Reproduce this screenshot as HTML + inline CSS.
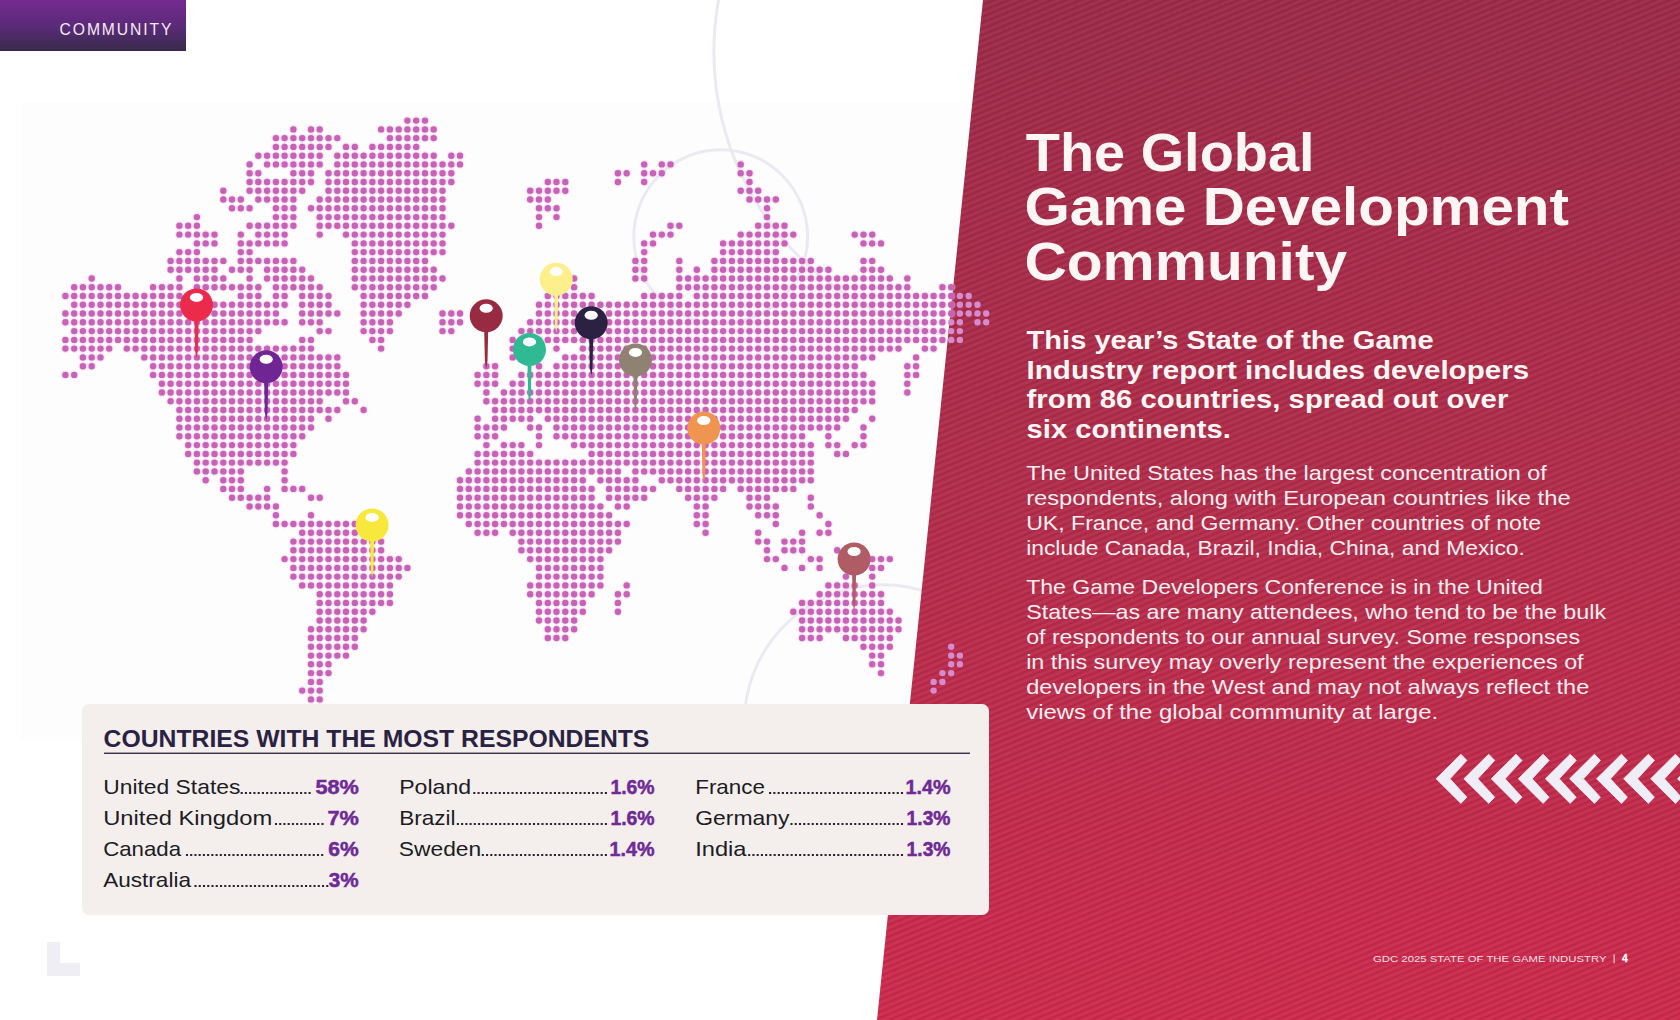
<!DOCTYPE html>
<html lang="en">
<head>
<meta charset="utf-8">
<title>The Global Game Development Community</title>
<style>
html,body{margin:0;padding:0;}
body{width:1680px;height:1020px;position:relative;overflow:hidden;background:#ffffff;}
svg{position:absolute;left:0;top:0;display:block;}
text{font-family:"Liberation Sans",Arial,sans-serif;white-space:pre;}
</style>
</head>
<body>
<svg width="1680" height="1020" viewBox="0 0 1680 1020">
  <defs>
    <linearGradient id="tabg" x1="0" y1="0" x2="0" y2="1">
      <stop offset="0" stop-color="#742a90"/>
      <stop offset="0.45" stop-color="#5e2a7c"/>
      <stop offset="1" stop-color="#382b4c"/>
    </linearGradient>
    <linearGradient id="pg" x1="0" y1="0" x2="0" y2="1020" gradientUnits="userSpaceOnUse">
      <stop offset="0" stop-color="#9d2d4a"/>
      <stop offset="0.5" stop-color="#b42f4d"/>
      <stop offset="1" stop-color="#cf2c4f"/>
    </linearGradient>
    <pattern id="stripes" patternUnits="userSpaceOnUse" width="20" height="5.5" patternTransform="rotate(-22.5)">
      <rect x="0" y="0" width="20" height="2.0" fill="#3a0010" fill-opacity="0.10"/>
      <rect x="0" y="3.0" width="20" height="1.6" fill="#fff" fill-opacity="0.035"/>
    </pattern>
  </defs>
  <rect x="21" y="102" width="1000" height="638" fill="#fdfdfd"/>
  <g fill="none" stroke="#ebe9f2" stroke-width="3">
    <circle cx="1002.9" cy="51.7" r="289"/>
    <circle cx="720.7" cy="236.7" r="86.9"/>
    <circle cx="882.8" cy="723.3" r="138.6"/>
  </g>
  <polygon points="983,0 1680,0 1680,1020 877,1020" fill="url(#pg)"/>
  <polygon points="983,0 1680,0 1680,1020 877,1020" fill="url(#stripes)"/>
  <path d="M407.4 120.6h0M416.2 120.6h0M425.0 120.6h0M293.4 129.4h0M311.0 129.4h0M319.7 129.4h0M381.1 129.4h0M389.9 129.4h0M398.7 129.4h0M407.4 129.4h0M416.2 129.4h0M425.0 129.4h0M433.7 129.4h0M275.9 138.1h0M284.6 138.1h0M293.4 138.1h0M302.2 138.1h0M311.0 138.1h0M319.7 138.1h0M328.5 138.1h0M337.3 138.1h0M389.9 138.1h0M398.7 138.1h0M407.4 138.1h0M416.2 138.1h0M425.0 138.1h0M433.7 138.1h0M275.9 146.9h0M284.6 146.9h0M293.4 146.9h0M302.2 146.9h0M311.0 146.9h0M319.7 146.9h0M328.5 146.9h0M346.0 146.9h0M354.8 146.9h0M372.4 146.9h0M381.1 146.9h0M389.9 146.9h0M398.7 146.9h0M407.4 146.9h0M416.2 146.9h0M258.3 155.7h0M267.1 155.7h0M275.9 155.7h0M284.6 155.7h0M293.4 155.7h0M302.2 155.7h0M311.0 155.7h0M319.7 155.7h0M337.3 155.7h0M346.0 155.7h0M354.8 155.7h0M363.6 155.7h0M372.4 155.7h0M381.1 155.7h0M389.9 155.7h0M398.7 155.7h0M407.4 155.7h0M416.2 155.7h0M425.0 155.7h0M433.7 155.7h0M451.3 155.7h0M460.0 155.7h0M249.6 164.4h0M267.1 164.4h0M275.9 164.4h0M284.6 164.4h0M293.4 164.4h0M302.2 164.4h0M311.0 164.4h0M319.7 164.4h0M337.3 164.4h0M346.0 164.4h0M354.8 164.4h0M363.6 164.4h0M372.4 164.4h0M381.1 164.4h0M389.9 164.4h0M398.7 164.4h0M407.4 164.4h0M416.2 164.4h0M425.0 164.4h0M433.7 164.4h0M442.5 164.4h0M451.3 164.4h0M460.0 164.4h0M644.2 164.4h0M661.8 164.4h0M670.5 164.4h0M740.7 164.4h0M249.6 173.2h0M258.3 173.2h0M293.4 173.2h0M302.2 173.2h0M311.0 173.2h0M328.5 173.2h0M337.3 173.2h0M346.0 173.2h0M354.8 173.2h0M363.6 173.2h0M372.4 173.2h0M381.1 173.2h0M389.9 173.2h0M398.7 173.2h0M407.4 173.2h0M416.2 173.2h0M425.0 173.2h0M433.7 173.2h0M442.5 173.2h0M451.3 173.2h0M617.9 173.2h0M626.7 173.2h0M644.2 173.2h0M653.0 173.2h0M661.8 173.2h0M740.7 173.2h0M749.5 173.2h0M249.6 182.0h0M258.3 182.0h0M267.1 182.0h0M275.9 182.0h0M284.6 182.0h0M293.4 182.0h0M302.2 182.0h0M311.0 182.0h0M328.5 182.0h0M337.3 182.0h0M346.0 182.0h0M354.8 182.0h0M363.6 182.0h0M372.4 182.0h0M381.1 182.0h0M389.9 182.0h0M398.7 182.0h0M407.4 182.0h0M416.2 182.0h0M425.0 182.0h0M433.7 182.0h0M442.5 182.0h0M451.3 182.0h0M547.8 182.0h0M556.5 182.0h0M565.3 182.0h0M617.9 182.0h0M644.2 182.0h0M749.5 182.0h0M223.3 190.8h0M249.6 190.8h0M258.3 190.8h0M267.1 190.8h0M275.9 190.8h0M284.6 190.8h0M293.4 190.8h0M302.2 190.8h0M328.5 190.8h0M337.3 190.8h0M346.0 190.8h0M354.8 190.8h0M363.6 190.8h0M372.4 190.8h0M381.1 190.8h0M389.9 190.8h0M398.7 190.8h0M407.4 190.8h0M416.2 190.8h0M425.0 190.8h0M433.7 190.8h0M442.5 190.8h0M530.2 190.8h0M539.0 190.8h0M547.8 190.8h0M556.5 190.8h0M565.3 190.8h0M740.7 190.8h0M749.5 190.8h0M758.2 190.8h0M223.3 199.5h0M232.0 199.5h0M240.8 199.5h0M258.3 199.5h0M267.1 199.5h0M275.9 199.5h0M284.6 199.5h0M293.4 199.5h0M319.7 199.5h0M328.5 199.5h0M337.3 199.5h0M346.0 199.5h0M354.8 199.5h0M363.6 199.5h0M372.4 199.5h0M381.1 199.5h0M389.9 199.5h0M398.7 199.5h0M407.4 199.5h0M416.2 199.5h0M425.0 199.5h0M433.7 199.5h0M442.5 199.5h0M530.2 199.5h0M539.0 199.5h0M547.8 199.5h0M749.5 199.5h0M758.2 199.5h0M767.0 199.5h0M775.8 199.5h0M232.0 208.3h0M240.8 208.3h0M249.6 208.3h0M275.9 208.3h0M284.6 208.3h0M293.4 208.3h0M311.0 208.3h0M319.7 208.3h0M328.5 208.3h0M337.3 208.3h0M346.0 208.3h0M354.8 208.3h0M363.6 208.3h0M372.4 208.3h0M381.1 208.3h0M389.9 208.3h0M398.7 208.3h0M407.4 208.3h0M416.2 208.3h0M425.0 208.3h0M433.7 208.3h0M442.5 208.3h0M539.0 208.3h0M547.8 208.3h0M556.5 208.3h0M767.0 208.3h0M196.9 217.1h0M275.9 217.1h0M284.6 217.1h0M293.4 217.1h0M319.7 217.1h0M328.5 217.1h0M337.3 217.1h0M346.0 217.1h0M354.8 217.1h0M363.6 217.1h0M372.4 217.1h0M381.1 217.1h0M389.9 217.1h0M398.7 217.1h0M407.4 217.1h0M416.2 217.1h0M425.0 217.1h0M433.7 217.1h0M442.5 217.1h0M539.0 217.1h0M556.5 217.1h0M767.0 217.1h0M179.4 225.8h0M188.2 225.8h0M196.9 225.8h0M249.6 225.8h0M258.3 225.8h0M267.1 225.8h0M275.9 225.8h0M284.6 225.8h0M293.4 225.8h0M319.7 225.8h0M328.5 225.8h0M337.3 225.8h0M346.0 225.8h0M354.8 225.8h0M363.6 225.8h0M372.4 225.8h0M381.1 225.8h0M389.9 225.8h0M398.7 225.8h0M407.4 225.8h0M416.2 225.8h0M425.0 225.8h0M433.7 225.8h0M442.5 225.8h0M451.3 225.8h0M539.0 225.8h0M670.5 225.8h0M679.3 225.8h0M758.2 225.8h0M767.0 225.8h0M775.8 225.8h0M784.5 225.8h0M179.4 234.6h0M188.2 234.6h0M196.9 234.6h0M205.7 234.6h0M214.5 234.6h0M240.8 234.6h0M258.3 234.6h0M267.1 234.6h0M275.9 234.6h0M284.6 234.6h0M319.7 234.6h0M346.0 234.6h0M354.8 234.6h0M363.6 234.6h0M372.4 234.6h0M381.1 234.6h0M389.9 234.6h0M398.7 234.6h0M407.4 234.6h0M416.2 234.6h0M425.0 234.6h0M433.7 234.6h0M442.5 234.6h0M653.0 234.6h0M661.8 234.6h0M670.5 234.6h0M740.7 234.6h0M749.5 234.6h0M758.2 234.6h0M767.0 234.6h0M775.8 234.6h0M784.5 234.6h0M793.3 234.6h0M854.7 234.6h0M863.5 234.6h0M872.2 234.6h0M196.9 243.4h0M205.7 243.4h0M214.5 243.4h0M240.8 243.4h0M249.6 243.4h0M258.3 243.4h0M267.1 243.4h0M275.9 243.4h0M284.6 243.4h0M354.8 243.4h0M363.6 243.4h0M372.4 243.4h0M381.1 243.4h0M389.9 243.4h0M398.7 243.4h0M407.4 243.4h0M416.2 243.4h0M425.0 243.4h0M433.7 243.4h0M442.5 243.4h0M644.2 243.4h0M653.0 243.4h0M723.1 243.4h0M731.9 243.4h0M740.7 243.4h0M749.5 243.4h0M758.2 243.4h0M767.0 243.4h0M775.8 243.4h0M784.5 243.4h0M863.5 243.4h0M872.2 243.4h0M881.0 243.4h0M179.4 252.1h0M188.2 252.1h0M196.9 252.1h0M240.8 252.1h0M249.6 252.1h0M354.8 252.1h0M363.6 252.1h0M372.4 252.1h0M381.1 252.1h0M389.9 252.1h0M398.7 252.1h0M407.4 252.1h0M416.2 252.1h0M425.0 252.1h0M433.7 252.1h0M442.5 252.1h0M644.2 252.1h0M723.1 252.1h0M731.9 252.1h0M740.7 252.1h0M749.5 252.1h0M758.2 252.1h0M767.0 252.1h0M775.8 252.1h0M170.6 260.9h0M179.4 260.9h0M188.2 260.9h0M196.9 260.9h0M205.7 260.9h0M214.5 260.9h0M223.3 260.9h0M240.8 260.9h0M249.6 260.9h0M258.3 260.9h0M267.1 260.9h0M275.9 260.9h0M284.6 260.9h0M293.4 260.9h0M354.8 260.9h0M363.6 260.9h0M372.4 260.9h0M381.1 260.9h0M389.9 260.9h0M398.7 260.9h0M407.4 260.9h0M416.2 260.9h0M425.0 260.9h0M635.4 260.9h0M644.2 260.9h0M679.3 260.9h0M714.4 260.9h0M723.1 260.9h0M731.9 260.9h0M740.7 260.9h0M749.5 260.9h0M758.2 260.9h0M767.0 260.9h0M775.8 260.9h0M784.5 260.9h0M793.3 260.9h0M802.1 260.9h0M810.8 260.9h0M863.5 260.9h0M872.2 260.9h0M170.6 269.7h0M179.4 269.7h0M188.2 269.7h0M196.9 269.7h0M205.7 269.7h0M214.5 269.7h0M232.0 269.7h0M240.8 269.7h0M249.6 269.7h0M267.1 269.7h0M275.9 269.7h0M284.6 269.7h0M293.4 269.7h0M302.2 269.7h0M354.8 269.7h0M363.6 269.7h0M372.4 269.7h0M381.1 269.7h0M389.9 269.7h0M398.7 269.7h0M407.4 269.7h0M416.2 269.7h0M425.0 269.7h0M433.7 269.7h0M635.4 269.7h0M644.2 269.7h0M679.3 269.7h0M696.8 269.7h0M714.4 269.7h0M723.1 269.7h0M731.9 269.7h0M740.7 269.7h0M749.5 269.7h0M758.2 269.7h0M767.0 269.7h0M775.8 269.7h0M784.5 269.7h0M793.3 269.7h0M802.1 269.7h0M810.8 269.7h0M819.6 269.7h0M828.4 269.7h0M863.5 269.7h0M872.2 269.7h0M881.0 269.7h0M91.7 278.5h0M179.4 278.5h0M196.9 278.5h0M205.7 278.5h0M214.5 278.5h0M223.3 278.5h0M249.6 278.5h0M267.1 278.5h0M275.9 278.5h0M284.6 278.5h0M293.4 278.5h0M302.2 278.5h0M311.0 278.5h0M354.8 278.5h0M363.6 278.5h0M372.4 278.5h0M381.1 278.5h0M389.9 278.5h0M398.7 278.5h0M407.4 278.5h0M416.2 278.5h0M425.0 278.5h0M433.7 278.5h0M442.5 278.5h0M574.1 278.5h0M635.4 278.5h0M644.2 278.5h0M679.3 278.5h0M688.1 278.5h0M696.8 278.5h0M705.6 278.5h0M714.4 278.5h0M723.1 278.5h0M731.9 278.5h0M740.7 278.5h0M749.5 278.5h0M758.2 278.5h0M767.0 278.5h0M775.8 278.5h0M784.5 278.5h0M793.3 278.5h0M802.1 278.5h0M810.8 278.5h0M819.6 278.5h0M828.4 278.5h0M837.2 278.5h0M845.9 278.5h0M854.7 278.5h0M863.5 278.5h0M872.2 278.5h0M881.0 278.5h0M889.8 278.5h0M907.3 278.5h0M74.2 287.2h0M82.9 287.2h0M91.7 287.2h0M100.5 287.2h0M109.2 287.2h0M118.0 287.2h0M153.1 287.2h0M161.9 287.2h0M170.6 287.2h0M179.4 287.2h0M196.9 287.2h0M205.7 287.2h0M214.5 287.2h0M223.3 287.2h0M232.0 287.2h0M240.8 287.2h0M249.6 287.2h0M258.3 287.2h0M275.9 287.2h0M284.6 287.2h0M293.4 287.2h0M302.2 287.2h0M311.0 287.2h0M319.7 287.2h0M354.8 287.2h0M363.6 287.2h0M372.4 287.2h0M381.1 287.2h0M389.9 287.2h0M398.7 287.2h0M407.4 287.2h0M416.2 287.2h0M425.0 287.2h0M433.7 287.2h0M574.1 287.2h0M679.3 287.2h0M688.1 287.2h0M696.8 287.2h0M705.6 287.2h0M714.4 287.2h0M723.1 287.2h0M731.9 287.2h0M740.7 287.2h0M749.5 287.2h0M758.2 287.2h0M767.0 287.2h0M775.8 287.2h0M784.5 287.2h0M793.3 287.2h0M802.1 287.2h0M810.8 287.2h0M819.6 287.2h0M828.4 287.2h0M837.2 287.2h0M845.9 287.2h0M854.7 287.2h0M863.5 287.2h0M872.2 287.2h0M881.0 287.2h0M889.8 287.2h0M898.5 287.2h0M907.3 287.2h0M942.4 287.2h0M951.2 287.2h0M65.4 296.0h0M74.2 296.0h0M82.9 296.0h0M91.7 296.0h0M100.5 296.0h0M109.2 296.0h0M118.0 296.0h0M126.8 296.0h0M135.6 296.0h0M144.3 296.0h0M153.1 296.0h0M161.9 296.0h0M170.6 296.0h0M179.4 296.0h0M188.2 296.0h0M196.9 296.0h0M205.7 296.0h0M240.8 296.0h0M249.6 296.0h0M258.3 296.0h0M275.9 296.0h0M284.6 296.0h0M302.2 296.0h0M311.0 296.0h0M319.7 296.0h0M328.5 296.0h0M363.6 296.0h0M372.4 296.0h0M381.1 296.0h0M389.9 296.0h0M398.7 296.0h0M407.4 296.0h0M416.2 296.0h0M425.0 296.0h0M547.8 296.0h0M556.5 296.0h0M565.3 296.0h0M574.1 296.0h0M582.8 296.0h0M591.6 296.0h0M644.2 296.0h0M653.0 296.0h0M661.8 296.0h0M670.5 296.0h0M679.3 296.0h0M696.8 296.0h0M705.6 296.0h0M714.4 296.0h0M723.1 296.0h0M731.9 296.0h0M740.7 296.0h0M749.5 296.0h0M758.2 296.0h0M767.0 296.0h0M775.8 296.0h0M784.5 296.0h0M793.3 296.0h0M802.1 296.0h0M810.8 296.0h0M819.6 296.0h0M828.4 296.0h0M837.2 296.0h0M845.9 296.0h0M854.7 296.0h0M863.5 296.0h0M872.2 296.0h0M881.0 296.0h0M889.8 296.0h0M898.5 296.0h0M907.3 296.0h0M916.1 296.0h0M924.9 296.0h0M933.6 296.0h0M942.4 296.0h0M951.2 296.0h0M74.2 304.8h0M82.9 304.8h0M91.7 304.8h0M100.5 304.8h0M109.2 304.8h0M118.0 304.8h0M126.8 304.8h0M135.6 304.8h0M144.3 304.8h0M153.1 304.8h0M161.9 304.8h0M170.6 304.8h0M179.4 304.8h0M188.2 304.8h0M196.9 304.8h0M205.7 304.8h0M214.5 304.8h0M223.3 304.8h0M232.0 304.8h0M240.8 304.8h0M249.6 304.8h0M258.3 304.8h0M267.1 304.8h0M275.9 304.8h0M284.6 304.8h0M302.2 304.8h0M311.0 304.8h0M319.7 304.8h0M328.5 304.8h0M363.6 304.8h0M372.4 304.8h0M381.1 304.8h0M389.9 304.8h0M398.7 304.8h0M407.4 304.8h0M539.0 304.8h0M547.8 304.8h0M556.5 304.8h0M565.3 304.8h0M574.1 304.8h0M582.8 304.8h0M591.6 304.8h0M600.4 304.8h0M609.1 304.8h0M617.9 304.8h0M626.7 304.8h0M635.4 304.8h0M644.2 304.8h0M653.0 304.8h0M661.8 304.8h0M670.5 304.8h0M679.3 304.8h0M688.1 304.8h0M696.8 304.8h0M705.6 304.8h0M714.4 304.8h0M723.1 304.8h0M731.9 304.8h0M740.7 304.8h0M749.5 304.8h0M758.2 304.8h0M767.0 304.8h0M775.8 304.8h0M784.5 304.8h0M793.3 304.8h0M802.1 304.8h0M810.8 304.8h0M819.6 304.8h0M828.4 304.8h0M837.2 304.8h0M845.9 304.8h0M854.7 304.8h0M863.5 304.8h0M872.2 304.8h0M881.0 304.8h0M889.8 304.8h0M898.5 304.8h0M907.3 304.8h0M916.1 304.8h0M924.9 304.8h0M933.6 304.8h0M942.4 304.8h0M951.2 304.8h0M65.4 313.5h0M74.2 313.5h0M82.9 313.5h0M91.7 313.5h0M100.5 313.5h0M109.2 313.5h0M118.0 313.5h0M126.8 313.5h0M135.6 313.5h0M144.3 313.5h0M153.1 313.5h0M161.9 313.5h0M170.6 313.5h0M179.4 313.5h0M188.2 313.5h0M196.9 313.5h0M205.7 313.5h0M214.5 313.5h0M223.3 313.5h0M232.0 313.5h0M240.8 313.5h0M249.6 313.5h0M258.3 313.5h0M267.1 313.5h0M275.9 313.5h0M302.2 313.5h0M311.0 313.5h0M319.7 313.5h0M328.5 313.5h0M337.3 313.5h0M363.6 313.5h0M372.4 313.5h0M381.1 313.5h0M389.9 313.5h0M398.7 313.5h0M442.5 313.5h0M451.3 313.5h0M460.0 313.5h0M539.0 313.5h0M547.8 313.5h0M556.5 313.5h0M565.3 313.5h0M574.1 313.5h0M582.8 313.5h0M591.6 313.5h0M600.4 313.5h0M609.1 313.5h0M617.9 313.5h0M626.7 313.5h0M635.4 313.5h0M644.2 313.5h0M653.0 313.5h0M661.8 313.5h0M670.5 313.5h0M679.3 313.5h0M688.1 313.5h0M696.8 313.5h0M705.6 313.5h0M714.4 313.5h0M723.1 313.5h0M731.9 313.5h0M740.7 313.5h0M749.5 313.5h0M758.2 313.5h0M767.0 313.5h0M775.8 313.5h0M784.5 313.5h0M793.3 313.5h0M802.1 313.5h0M810.8 313.5h0M819.6 313.5h0M828.4 313.5h0M837.2 313.5h0M845.9 313.5h0M854.7 313.5h0M863.5 313.5h0M872.2 313.5h0M881.0 313.5h0M889.8 313.5h0M898.5 313.5h0M907.3 313.5h0M916.1 313.5h0M924.9 313.5h0M933.6 313.5h0M942.4 313.5h0M951.2 313.5h0M65.4 322.3h0M74.2 322.3h0M82.9 322.3h0M91.7 322.3h0M100.5 322.3h0M109.2 322.3h0M118.0 322.3h0M126.8 322.3h0M135.6 322.3h0M144.3 322.3h0M153.1 322.3h0M161.9 322.3h0M170.6 322.3h0M179.4 322.3h0M188.2 322.3h0M196.9 322.3h0M205.7 322.3h0M214.5 322.3h0M223.3 322.3h0M232.0 322.3h0M240.8 322.3h0M249.6 322.3h0M258.3 322.3h0M267.1 322.3h0M275.9 322.3h0M284.6 322.3h0M302.2 322.3h0M311.0 322.3h0M319.7 322.3h0M363.6 322.3h0M372.4 322.3h0M381.1 322.3h0M389.9 322.3h0M442.5 322.3h0M451.3 322.3h0M460.0 322.3h0M530.2 322.3h0M539.0 322.3h0M547.8 322.3h0M556.5 322.3h0M565.3 322.3h0M574.1 322.3h0M582.8 322.3h0M591.6 322.3h0M600.4 322.3h0M609.1 322.3h0M617.9 322.3h0M626.7 322.3h0M635.4 322.3h0M644.2 322.3h0M653.0 322.3h0M661.8 322.3h0M670.5 322.3h0M679.3 322.3h0M688.1 322.3h0M696.8 322.3h0M705.6 322.3h0M714.4 322.3h0M723.1 322.3h0M731.9 322.3h0M740.7 322.3h0M749.5 322.3h0M758.2 322.3h0M767.0 322.3h0M775.8 322.3h0M784.5 322.3h0M793.3 322.3h0M802.1 322.3h0M810.8 322.3h0M819.6 322.3h0M828.4 322.3h0M837.2 322.3h0M845.9 322.3h0M854.7 322.3h0M863.5 322.3h0M872.2 322.3h0M881.0 322.3h0M889.8 322.3h0M898.5 322.3h0M907.3 322.3h0M916.1 322.3h0M924.9 322.3h0M933.6 322.3h0M942.4 322.3h0M74.2 331.1h0M82.9 331.1h0M91.7 331.1h0M100.5 331.1h0M109.2 331.1h0M118.0 331.1h0M126.8 331.1h0M135.6 331.1h0M144.3 331.1h0M153.1 331.1h0M161.9 331.1h0M170.6 331.1h0M179.4 331.1h0M188.2 331.1h0M196.9 331.1h0M205.7 331.1h0M214.5 331.1h0M223.3 331.1h0M232.0 331.1h0M240.8 331.1h0M249.6 331.1h0M258.3 331.1h0M319.7 331.1h0M328.5 331.1h0M363.6 331.1h0M372.4 331.1h0M381.1 331.1h0M389.9 331.1h0M442.5 331.1h0M451.3 331.1h0M521.4 331.1h0M530.2 331.1h0M539.0 331.1h0M547.8 331.1h0M556.5 331.1h0M565.3 331.1h0M574.1 331.1h0M582.8 331.1h0M591.6 331.1h0M600.4 331.1h0M609.1 331.1h0M617.9 331.1h0M626.7 331.1h0M635.4 331.1h0M644.2 331.1h0M653.0 331.1h0M661.8 331.1h0M670.5 331.1h0M679.3 331.1h0M688.1 331.1h0M696.8 331.1h0M705.6 331.1h0M714.4 331.1h0M723.1 331.1h0M731.9 331.1h0M740.7 331.1h0M749.5 331.1h0M758.2 331.1h0M767.0 331.1h0M775.8 331.1h0M784.5 331.1h0M793.3 331.1h0M802.1 331.1h0M810.8 331.1h0M819.6 331.1h0M828.4 331.1h0M837.2 331.1h0M845.9 331.1h0M854.7 331.1h0M863.5 331.1h0M872.2 331.1h0M881.0 331.1h0M889.8 331.1h0M898.5 331.1h0M907.3 331.1h0M916.1 331.1h0M924.9 331.1h0M933.6 331.1h0M942.4 331.1h0M65.4 339.9h0M74.2 339.9h0M82.9 339.9h0M91.7 339.9h0M100.5 339.9h0M109.2 339.9h0M118.0 339.9h0M126.8 339.9h0M135.6 339.9h0M144.3 339.9h0M153.1 339.9h0M161.9 339.9h0M170.6 339.9h0M179.4 339.9h0M188.2 339.9h0M196.9 339.9h0M205.7 339.9h0M214.5 339.9h0M223.3 339.9h0M232.0 339.9h0M240.8 339.9h0M249.6 339.9h0M302.2 339.9h0M311.0 339.9h0M372.4 339.9h0M381.1 339.9h0M512.7 339.9h0M521.4 339.9h0M530.2 339.9h0M539.0 339.9h0M547.8 339.9h0M556.5 339.9h0M565.3 339.9h0M574.1 339.9h0M582.8 339.9h0M591.6 339.9h0M600.4 339.9h0M609.1 339.9h0M617.9 339.9h0M626.7 339.9h0M635.4 339.9h0M644.2 339.9h0M653.0 339.9h0M661.8 339.9h0M670.5 339.9h0M679.3 339.9h0M688.1 339.9h0M696.8 339.9h0M705.6 339.9h0M714.4 339.9h0M723.1 339.9h0M731.9 339.9h0M740.7 339.9h0M749.5 339.9h0M758.2 339.9h0M767.0 339.9h0M775.8 339.9h0M784.5 339.9h0M793.3 339.9h0M802.1 339.9h0M810.8 339.9h0M819.6 339.9h0M828.4 339.9h0M837.2 339.9h0M845.9 339.9h0M854.7 339.9h0M863.5 339.9h0M872.2 339.9h0M881.0 339.9h0M889.8 339.9h0M898.5 339.9h0M907.3 339.9h0M916.1 339.9h0M924.9 339.9h0M933.6 339.9h0M942.4 339.9h0M65.4 348.6h0M74.2 348.6h0M82.9 348.6h0M91.7 348.6h0M100.5 348.6h0M109.2 348.6h0M126.8 348.6h0M135.6 348.6h0M144.3 348.6h0M153.1 348.6h0M161.9 348.6h0M170.6 348.6h0M179.4 348.6h0M188.2 348.6h0M196.9 348.6h0M205.7 348.6h0M214.5 348.6h0M223.3 348.6h0M232.0 348.6h0M240.8 348.6h0M249.6 348.6h0M258.3 348.6h0M267.1 348.6h0M275.9 348.6h0M284.6 348.6h0M293.4 348.6h0M302.2 348.6h0M311.0 348.6h0M381.1 348.6h0M512.7 348.6h0M521.4 348.6h0M530.2 348.6h0M539.0 348.6h0M556.5 348.6h0M582.8 348.6h0M591.6 348.6h0M600.4 348.6h0M609.1 348.6h0M617.9 348.6h0M626.7 348.6h0M635.4 348.6h0M644.2 348.6h0M653.0 348.6h0M661.8 348.6h0M670.5 348.6h0M679.3 348.6h0M688.1 348.6h0M696.8 348.6h0M705.6 348.6h0M714.4 348.6h0M723.1 348.6h0M731.9 348.6h0M740.7 348.6h0M749.5 348.6h0M758.2 348.6h0M767.0 348.6h0M775.8 348.6h0M784.5 348.6h0M793.3 348.6h0M802.1 348.6h0M810.8 348.6h0M819.6 348.6h0M828.4 348.6h0M837.2 348.6h0M845.9 348.6h0M854.7 348.6h0M863.5 348.6h0M872.2 348.6h0M881.0 348.6h0M889.8 348.6h0M898.5 348.6h0M924.9 348.6h0M933.6 348.6h0M82.9 357.4h0M91.7 357.4h0M100.5 357.4h0M144.3 357.4h0M153.1 357.4h0M161.9 357.4h0M170.6 357.4h0M179.4 357.4h0M188.2 357.4h0M196.9 357.4h0M205.7 357.4h0M214.5 357.4h0M223.3 357.4h0M232.0 357.4h0M240.8 357.4h0M249.6 357.4h0M258.3 357.4h0M267.1 357.4h0M275.9 357.4h0M284.6 357.4h0M293.4 357.4h0M302.2 357.4h0M311.0 357.4h0M319.7 357.4h0M328.5 357.4h0M337.3 357.4h0M512.7 357.4h0M521.4 357.4h0M530.2 357.4h0M539.0 357.4h0M565.3 357.4h0M574.1 357.4h0M582.8 357.4h0M591.6 357.4h0M600.4 357.4h0M609.1 357.4h0M617.9 357.4h0M626.7 357.4h0M635.4 357.4h0M644.2 357.4h0M653.0 357.4h0M661.8 357.4h0M670.5 357.4h0M679.3 357.4h0M688.1 357.4h0M696.8 357.4h0M705.6 357.4h0M714.4 357.4h0M723.1 357.4h0M731.9 357.4h0M740.7 357.4h0M749.5 357.4h0M758.2 357.4h0M767.0 357.4h0M775.8 357.4h0M784.5 357.4h0M793.3 357.4h0M802.1 357.4h0M810.8 357.4h0M819.6 357.4h0M828.4 357.4h0M837.2 357.4h0M845.9 357.4h0M854.7 357.4h0M863.5 357.4h0M872.2 357.4h0M916.1 357.4h0M82.9 366.2h0M91.7 366.2h0M153.1 366.2h0M161.9 366.2h0M170.6 366.2h0M179.4 366.2h0M188.2 366.2h0M196.9 366.2h0M205.7 366.2h0M214.5 366.2h0M223.3 366.2h0M232.0 366.2h0M240.8 366.2h0M249.6 366.2h0M258.3 366.2h0M267.1 366.2h0M275.9 366.2h0M284.6 366.2h0M293.4 366.2h0M302.2 366.2h0M311.0 366.2h0M319.7 366.2h0M328.5 366.2h0M337.3 366.2h0M486.4 366.2h0M495.1 366.2h0M539.0 366.2h0M556.5 366.2h0M565.3 366.2h0M574.1 366.2h0M582.8 366.2h0M591.6 366.2h0M600.4 366.2h0M609.1 366.2h0M617.9 366.2h0M626.7 366.2h0M635.4 366.2h0M644.2 366.2h0M653.0 366.2h0M661.8 366.2h0M670.5 366.2h0M679.3 366.2h0M688.1 366.2h0M696.8 366.2h0M705.6 366.2h0M714.4 366.2h0M723.1 366.2h0M731.9 366.2h0M740.7 366.2h0M749.5 366.2h0M758.2 366.2h0M767.0 366.2h0M775.8 366.2h0M784.5 366.2h0M793.3 366.2h0M802.1 366.2h0M810.8 366.2h0M819.6 366.2h0M828.4 366.2h0M837.2 366.2h0M845.9 366.2h0M854.7 366.2h0M907.3 366.2h0M916.1 366.2h0M65.4 374.9h0M74.2 374.9h0M153.1 374.9h0M161.9 374.9h0M170.6 374.9h0M179.4 374.9h0M188.2 374.9h0M196.9 374.9h0M205.7 374.9h0M214.5 374.9h0M223.3 374.9h0M232.0 374.9h0M240.8 374.9h0M249.6 374.9h0M258.3 374.9h0M267.1 374.9h0M275.9 374.9h0M284.6 374.9h0M293.4 374.9h0M302.2 374.9h0M311.0 374.9h0M319.7 374.9h0M328.5 374.9h0M337.3 374.9h0M346.0 374.9h0M477.6 374.9h0M486.4 374.9h0M495.1 374.9h0M521.4 374.9h0M530.2 374.9h0M539.0 374.9h0M547.8 374.9h0M556.5 374.9h0M565.3 374.9h0M574.1 374.9h0M582.8 374.9h0M591.6 374.9h0M600.4 374.9h0M609.1 374.9h0M617.9 374.9h0M626.7 374.9h0M635.4 374.9h0M644.2 374.9h0M653.0 374.9h0M661.8 374.9h0M670.5 374.9h0M679.3 374.9h0M688.1 374.9h0M696.8 374.9h0M705.6 374.9h0M714.4 374.9h0M723.1 374.9h0M731.9 374.9h0M740.7 374.9h0M749.5 374.9h0M758.2 374.9h0M767.0 374.9h0M775.8 374.9h0M784.5 374.9h0M793.3 374.9h0M802.1 374.9h0M810.8 374.9h0M819.6 374.9h0M828.4 374.9h0M837.2 374.9h0M845.9 374.9h0M854.7 374.9h0M863.5 374.9h0M907.3 374.9h0M916.1 374.9h0M161.9 383.7h0M170.6 383.7h0M179.4 383.7h0M188.2 383.7h0M196.9 383.7h0M205.7 383.7h0M214.5 383.7h0M223.3 383.7h0M232.0 383.7h0M240.8 383.7h0M249.6 383.7h0M258.3 383.7h0M267.1 383.7h0M275.9 383.7h0M284.6 383.7h0M293.4 383.7h0M302.2 383.7h0M311.0 383.7h0M319.7 383.7h0M328.5 383.7h0M337.3 383.7h0M346.0 383.7h0M477.6 383.7h0M486.4 383.7h0M495.1 383.7h0M512.7 383.7h0M521.4 383.7h0M539.0 383.7h0M547.8 383.7h0M556.5 383.7h0M565.3 383.7h0M574.1 383.7h0M582.8 383.7h0M591.6 383.7h0M600.4 383.7h0M609.1 383.7h0M617.9 383.7h0M626.7 383.7h0M635.4 383.7h0M644.2 383.7h0M653.0 383.7h0M661.8 383.7h0M670.5 383.7h0M679.3 383.7h0M688.1 383.7h0M696.8 383.7h0M705.6 383.7h0M714.4 383.7h0M723.1 383.7h0M731.9 383.7h0M740.7 383.7h0M749.5 383.7h0M758.2 383.7h0M767.0 383.7h0M775.8 383.7h0M784.5 383.7h0M793.3 383.7h0M802.1 383.7h0M810.8 383.7h0M819.6 383.7h0M828.4 383.7h0M837.2 383.7h0M845.9 383.7h0M854.7 383.7h0M863.5 383.7h0M872.2 383.7h0M907.3 383.7h0M161.9 392.5h0M170.6 392.5h0M179.4 392.5h0M188.2 392.5h0M196.9 392.5h0M205.7 392.5h0M214.5 392.5h0M223.3 392.5h0M232.0 392.5h0M240.8 392.5h0M249.6 392.5h0M258.3 392.5h0M267.1 392.5h0M275.9 392.5h0M284.6 392.5h0M293.4 392.5h0M302.2 392.5h0M311.0 392.5h0M319.7 392.5h0M328.5 392.5h0M337.3 392.5h0M346.0 392.5h0M486.4 392.5h0M503.9 392.5h0M512.7 392.5h0M521.4 392.5h0M530.2 392.5h0M539.0 392.5h0M547.8 392.5h0M556.5 392.5h0M565.3 392.5h0M574.1 392.5h0M582.8 392.5h0M591.6 392.5h0M600.4 392.5h0M609.1 392.5h0M617.9 392.5h0M626.7 392.5h0M635.4 392.5h0M644.2 392.5h0M653.0 392.5h0M661.8 392.5h0M670.5 392.5h0M679.3 392.5h0M688.1 392.5h0M696.8 392.5h0M705.6 392.5h0M714.4 392.5h0M723.1 392.5h0M731.9 392.5h0M740.7 392.5h0M749.5 392.5h0M758.2 392.5h0M767.0 392.5h0M775.8 392.5h0M784.5 392.5h0M793.3 392.5h0M802.1 392.5h0M810.8 392.5h0M819.6 392.5h0M828.4 392.5h0M837.2 392.5h0M845.9 392.5h0M854.7 392.5h0M863.5 392.5h0M872.2 392.5h0M907.3 392.5h0M170.6 401.2h0M179.4 401.2h0M188.2 401.2h0M196.9 401.2h0M205.7 401.2h0M214.5 401.2h0M223.3 401.2h0M232.0 401.2h0M240.8 401.2h0M249.6 401.2h0M258.3 401.2h0M267.1 401.2h0M275.9 401.2h0M284.6 401.2h0M293.4 401.2h0M302.2 401.2h0M311.0 401.2h0M319.7 401.2h0M346.0 401.2h0M354.8 401.2h0M486.4 401.2h0M495.1 401.2h0M503.9 401.2h0M512.7 401.2h0M521.4 401.2h0M530.2 401.2h0M539.0 401.2h0M547.8 401.2h0M556.5 401.2h0M565.3 401.2h0M574.1 401.2h0M582.8 401.2h0M591.6 401.2h0M600.4 401.2h0M609.1 401.2h0M617.9 401.2h0M626.7 401.2h0M635.4 401.2h0M644.2 401.2h0M653.0 401.2h0M661.8 401.2h0M670.5 401.2h0M679.3 401.2h0M688.1 401.2h0M696.8 401.2h0M705.6 401.2h0M714.4 401.2h0M723.1 401.2h0M731.9 401.2h0M740.7 401.2h0M749.5 401.2h0M758.2 401.2h0M767.0 401.2h0M775.8 401.2h0M784.5 401.2h0M793.3 401.2h0M802.1 401.2h0M810.8 401.2h0M819.6 401.2h0M828.4 401.2h0M837.2 401.2h0M845.9 401.2h0M854.7 401.2h0M863.5 401.2h0M872.2 401.2h0M179.4 410.0h0M188.2 410.0h0M196.9 410.0h0M205.7 410.0h0M214.5 410.0h0M223.3 410.0h0M232.0 410.0h0M240.8 410.0h0M249.6 410.0h0M258.3 410.0h0M267.1 410.0h0M275.9 410.0h0M284.6 410.0h0M293.4 410.0h0M302.2 410.0h0M311.0 410.0h0M319.7 410.0h0M328.5 410.0h0M337.3 410.0h0M363.6 410.0h0M495.1 410.0h0M503.9 410.0h0M512.7 410.0h0M521.4 410.0h0M530.2 410.0h0M539.0 410.0h0M547.8 410.0h0M556.5 410.0h0M565.3 410.0h0M574.1 410.0h0M582.8 410.0h0M591.6 410.0h0M600.4 410.0h0M609.1 410.0h0M617.9 410.0h0M626.7 410.0h0M635.4 410.0h0M644.2 410.0h0M653.0 410.0h0M661.8 410.0h0M670.5 410.0h0M679.3 410.0h0M688.1 410.0h0M696.8 410.0h0M705.6 410.0h0M714.4 410.0h0M723.1 410.0h0M731.9 410.0h0M740.7 410.0h0M749.5 410.0h0M758.2 410.0h0M767.0 410.0h0M775.8 410.0h0M784.5 410.0h0M793.3 410.0h0M802.1 410.0h0M810.8 410.0h0M819.6 410.0h0M828.4 410.0h0M837.2 410.0h0M845.9 410.0h0M854.7 410.0h0M179.4 418.8h0M188.2 418.8h0M196.9 418.8h0M205.7 418.8h0M214.5 418.8h0M223.3 418.8h0M232.0 418.8h0M240.8 418.8h0M249.6 418.8h0M258.3 418.8h0M267.1 418.8h0M275.9 418.8h0M284.6 418.8h0M293.4 418.8h0M302.2 418.8h0M311.0 418.8h0M328.5 418.8h0M477.6 418.8h0M495.1 418.8h0M503.9 418.8h0M512.7 418.8h0M521.4 418.8h0M530.2 418.8h0M547.8 418.8h0M556.5 418.8h0M565.3 418.8h0M574.1 418.8h0M582.8 418.8h0M591.6 418.8h0M600.4 418.8h0M609.1 418.8h0M617.9 418.8h0M626.7 418.8h0M635.4 418.8h0M644.2 418.8h0M653.0 418.8h0M661.8 418.8h0M670.5 418.8h0M679.3 418.8h0M688.1 418.8h0M696.8 418.8h0M705.6 418.8h0M714.4 418.8h0M723.1 418.8h0M731.9 418.8h0M740.7 418.8h0M749.5 418.8h0M758.2 418.8h0M767.0 418.8h0M775.8 418.8h0M784.5 418.8h0M793.3 418.8h0M802.1 418.8h0M810.8 418.8h0M819.6 418.8h0M828.4 418.8h0M837.2 418.8h0M845.9 418.8h0M872.2 418.8h0M179.4 427.5h0M188.2 427.5h0M196.9 427.5h0M205.7 427.5h0M214.5 427.5h0M223.3 427.5h0M232.0 427.5h0M240.8 427.5h0M249.6 427.5h0M258.3 427.5h0M267.1 427.5h0M275.9 427.5h0M284.6 427.5h0M293.4 427.5h0M302.2 427.5h0M311.0 427.5h0M477.6 427.5h0M486.4 427.5h0M495.1 427.5h0M503.9 427.5h0M530.2 427.5h0M539.0 427.5h0M556.5 427.5h0M565.3 427.5h0M574.1 427.5h0M582.8 427.5h0M591.6 427.5h0M600.4 427.5h0M609.1 427.5h0M617.9 427.5h0M626.7 427.5h0M635.4 427.5h0M644.2 427.5h0M653.0 427.5h0M661.8 427.5h0M670.5 427.5h0M679.3 427.5h0M688.1 427.5h0M696.8 427.5h0M705.6 427.5h0M714.4 427.5h0M723.1 427.5h0M731.9 427.5h0M740.7 427.5h0M749.5 427.5h0M758.2 427.5h0M767.0 427.5h0M775.8 427.5h0M784.5 427.5h0M793.3 427.5h0M802.1 427.5h0M810.8 427.5h0M819.6 427.5h0M828.4 427.5h0M837.2 427.5h0M863.5 427.5h0M179.4 436.3h0M188.2 436.3h0M196.9 436.3h0M205.7 436.3h0M214.5 436.3h0M223.3 436.3h0M232.0 436.3h0M240.8 436.3h0M249.6 436.3h0M258.3 436.3h0M267.1 436.3h0M275.9 436.3h0M284.6 436.3h0M293.4 436.3h0M302.2 436.3h0M477.6 436.3h0M486.4 436.3h0M495.1 436.3h0M539.0 436.3h0M556.5 436.3h0M565.3 436.3h0M574.1 436.3h0M582.8 436.3h0M591.6 436.3h0M600.4 436.3h0M609.1 436.3h0M617.9 436.3h0M626.7 436.3h0M635.4 436.3h0M644.2 436.3h0M653.0 436.3h0M661.8 436.3h0M670.5 436.3h0M679.3 436.3h0M688.1 436.3h0M696.8 436.3h0M705.6 436.3h0M714.4 436.3h0M723.1 436.3h0M731.9 436.3h0M740.7 436.3h0M749.5 436.3h0M758.2 436.3h0M767.0 436.3h0M775.8 436.3h0M784.5 436.3h0M793.3 436.3h0M802.1 436.3h0M828.4 436.3h0M863.5 436.3h0M188.2 445.1h0M196.9 445.1h0M205.7 445.1h0M214.5 445.1h0M223.3 445.1h0M232.0 445.1h0M240.8 445.1h0M249.6 445.1h0M258.3 445.1h0M267.1 445.1h0M275.9 445.1h0M284.6 445.1h0M293.4 445.1h0M486.4 445.1h0M503.9 445.1h0M512.7 445.1h0M521.4 445.1h0M539.0 445.1h0M574.1 445.1h0M582.8 445.1h0M591.6 445.1h0M600.4 445.1h0M609.1 445.1h0M617.9 445.1h0M626.7 445.1h0M635.4 445.1h0M644.2 445.1h0M653.0 445.1h0M661.8 445.1h0M670.5 445.1h0M679.3 445.1h0M688.1 445.1h0M696.8 445.1h0M705.6 445.1h0M714.4 445.1h0M723.1 445.1h0M731.9 445.1h0M740.7 445.1h0M749.5 445.1h0M758.2 445.1h0M767.0 445.1h0M775.8 445.1h0M784.5 445.1h0M793.3 445.1h0M802.1 445.1h0M810.8 445.1h0M828.4 445.1h0M837.2 445.1h0M854.7 445.1h0M863.5 445.1h0M188.2 453.9h0M196.9 453.9h0M205.7 453.9h0M214.5 453.9h0M223.3 453.9h0M232.0 453.9h0M240.8 453.9h0M249.6 453.9h0M258.3 453.9h0M267.1 453.9h0M275.9 453.9h0M284.6 453.9h0M293.4 453.9h0M477.6 453.9h0M486.4 453.9h0M495.1 453.9h0M503.9 453.9h0M512.7 453.9h0M521.4 453.9h0M530.2 453.9h0M591.6 453.9h0M600.4 453.9h0M609.1 453.9h0M617.9 453.9h0M626.7 453.9h0M635.4 453.9h0M644.2 453.9h0M653.0 453.9h0M661.8 453.9h0M670.5 453.9h0M679.3 453.9h0M688.1 453.9h0M696.8 453.9h0M705.6 453.9h0M714.4 453.9h0M723.1 453.9h0M731.9 453.9h0M740.7 453.9h0M749.5 453.9h0M758.2 453.9h0M767.0 453.9h0M775.8 453.9h0M784.5 453.9h0M793.3 453.9h0M802.1 453.9h0M810.8 453.9h0M837.2 453.9h0M845.9 453.9h0M196.9 462.6h0M205.7 462.6h0M214.5 462.6h0M223.3 462.6h0M232.0 462.6h0M240.8 462.6h0M249.6 462.6h0M258.3 462.6h0M267.1 462.6h0M275.9 462.6h0M284.6 462.6h0M477.6 462.6h0M486.4 462.6h0M495.1 462.6h0M503.9 462.6h0M512.7 462.6h0M521.4 462.6h0M530.2 462.6h0M539.0 462.6h0M547.8 462.6h0M556.5 462.6h0M565.3 462.6h0M574.1 462.6h0M582.8 462.6h0M591.6 462.6h0M600.4 462.6h0M609.1 462.6h0M617.9 462.6h0M626.7 462.6h0M635.4 462.6h0M644.2 462.6h0M653.0 462.6h0M661.8 462.6h0M670.5 462.6h0M679.3 462.6h0M688.1 462.6h0M696.8 462.6h0M705.6 462.6h0M714.4 462.6h0M723.1 462.6h0M731.9 462.6h0M740.7 462.6h0M749.5 462.6h0M758.2 462.6h0M767.0 462.6h0M775.8 462.6h0M784.5 462.6h0M793.3 462.6h0M802.1 462.6h0M810.8 462.6h0M196.9 471.4h0M205.7 471.4h0M214.5 471.4h0M223.3 471.4h0M232.0 471.4h0M240.8 471.4h0M284.6 471.4h0M468.8 471.4h0M477.6 471.4h0M486.4 471.4h0M495.1 471.4h0M503.9 471.4h0M512.7 471.4h0M521.4 471.4h0M530.2 471.4h0M539.0 471.4h0M547.8 471.4h0M556.5 471.4h0M565.3 471.4h0M574.1 471.4h0M582.8 471.4h0M591.6 471.4h0M600.4 471.4h0M609.1 471.4h0M617.9 471.4h0M635.4 471.4h0M644.2 471.4h0M653.0 471.4h0M661.8 471.4h0M670.5 471.4h0M679.3 471.4h0M688.1 471.4h0M696.8 471.4h0M705.6 471.4h0M714.4 471.4h0M723.1 471.4h0M731.9 471.4h0M740.7 471.4h0M749.5 471.4h0M758.2 471.4h0M767.0 471.4h0M775.8 471.4h0M784.5 471.4h0M793.3 471.4h0M802.1 471.4h0M810.8 471.4h0M205.7 480.2h0M223.3 480.2h0M232.0 480.2h0M240.8 480.2h0M284.6 480.2h0M460.0 480.2h0M468.8 480.2h0M477.6 480.2h0M486.4 480.2h0M495.1 480.2h0M503.9 480.2h0M512.7 480.2h0M521.4 480.2h0M530.2 480.2h0M539.0 480.2h0M547.8 480.2h0M556.5 480.2h0M565.3 480.2h0M574.1 480.2h0M582.8 480.2h0M600.4 480.2h0M609.1 480.2h0M617.9 480.2h0M626.7 480.2h0M635.4 480.2h0M661.8 480.2h0M670.5 480.2h0M679.3 480.2h0M688.1 480.2h0M696.8 480.2h0M705.6 480.2h0M714.4 480.2h0M723.1 480.2h0M731.9 480.2h0M740.7 480.2h0M749.5 480.2h0M758.2 480.2h0M767.0 480.2h0M775.8 480.2h0M784.5 480.2h0M793.3 480.2h0M802.1 480.2h0M810.8 480.2h0M223.3 488.9h0M232.0 488.9h0M240.8 488.9h0M267.1 488.9h0M284.6 488.9h0M293.4 488.9h0M302.2 488.9h0M460.0 488.9h0M468.8 488.9h0M477.6 488.9h0M486.4 488.9h0M495.1 488.9h0M503.9 488.9h0M512.7 488.9h0M521.4 488.9h0M530.2 488.9h0M539.0 488.9h0M547.8 488.9h0M556.5 488.9h0M565.3 488.9h0M574.1 488.9h0M582.8 488.9h0M591.6 488.9h0M609.1 488.9h0M617.9 488.9h0M626.7 488.9h0M635.4 488.9h0M644.2 488.9h0M653.0 488.9h0M679.3 488.9h0M688.1 488.9h0M696.8 488.9h0M705.6 488.9h0M714.4 488.9h0M723.1 488.9h0M740.7 488.9h0M749.5 488.9h0M758.2 488.9h0M767.0 488.9h0M775.8 488.9h0M784.5 488.9h0M793.3 488.9h0M232.0 497.7h0M240.8 497.7h0M249.6 497.7h0M258.3 497.7h0M267.1 497.7h0M311.0 497.7h0M319.7 497.7h0M460.0 497.7h0M468.8 497.7h0M477.6 497.7h0M486.4 497.7h0M495.1 497.7h0M503.9 497.7h0M512.7 497.7h0M521.4 497.7h0M530.2 497.7h0M539.0 497.7h0M547.8 497.7h0M556.5 497.7h0M565.3 497.7h0M574.1 497.7h0M582.8 497.7h0M591.6 497.7h0M609.1 497.7h0M617.9 497.7h0M626.7 497.7h0M635.4 497.7h0M644.2 497.7h0M688.1 497.7h0M696.8 497.7h0M705.6 497.7h0M714.4 497.7h0M749.5 497.7h0M758.2 497.7h0M767.0 497.7h0M810.8 497.7h0M249.6 506.5h0M258.3 506.5h0M267.1 506.5h0M275.9 506.5h0M460.0 506.5h0M468.8 506.5h0M477.6 506.5h0M486.4 506.5h0M495.1 506.5h0M503.9 506.5h0M512.7 506.5h0M521.4 506.5h0M530.2 506.5h0M539.0 506.5h0M547.8 506.5h0M556.5 506.5h0M565.3 506.5h0M574.1 506.5h0M582.8 506.5h0M591.6 506.5h0M600.4 506.5h0M617.9 506.5h0M626.7 506.5h0M696.8 506.5h0M705.6 506.5h0M749.5 506.5h0M758.2 506.5h0M767.0 506.5h0M775.8 506.5h0M810.8 506.5h0M275.9 515.2h0M311.0 515.2h0M460.0 515.2h0M468.8 515.2h0M477.6 515.2h0M486.4 515.2h0M495.1 515.2h0M503.9 515.2h0M512.7 515.2h0M521.4 515.2h0M530.2 515.2h0M539.0 515.2h0M547.8 515.2h0M556.5 515.2h0M565.3 515.2h0M574.1 515.2h0M582.8 515.2h0M591.6 515.2h0M600.4 515.2h0M609.1 515.2h0M696.8 515.2h0M705.6 515.2h0M758.2 515.2h0M767.0 515.2h0M775.8 515.2h0M819.6 515.2h0M275.9 524.0h0M284.6 524.0h0M293.4 524.0h0M302.2 524.0h0M311.0 524.0h0M319.7 524.0h0M328.5 524.0h0M337.3 524.0h0M346.0 524.0h0M354.8 524.0h0M363.6 524.0h0M372.4 524.0h0M468.8 524.0h0M477.6 524.0h0M486.4 524.0h0M495.1 524.0h0M503.9 524.0h0M512.7 524.0h0M521.4 524.0h0M530.2 524.0h0M539.0 524.0h0M547.8 524.0h0M556.5 524.0h0M565.3 524.0h0M574.1 524.0h0M582.8 524.0h0M591.6 524.0h0M600.4 524.0h0M609.1 524.0h0M617.9 524.0h0M626.7 524.0h0M696.8 524.0h0M705.6 524.0h0M775.8 524.0h0M828.4 524.0h0M302.2 532.8h0M311.0 532.8h0M319.7 532.8h0M328.5 532.8h0M337.3 532.8h0M346.0 532.8h0M354.8 532.8h0M363.6 532.8h0M372.4 532.8h0M477.6 532.8h0M486.4 532.8h0M495.1 532.8h0M512.7 532.8h0M521.4 532.8h0M530.2 532.8h0M539.0 532.8h0M547.8 532.8h0M556.5 532.8h0M565.3 532.8h0M574.1 532.8h0M582.8 532.8h0M591.6 532.8h0M600.4 532.8h0M609.1 532.8h0M617.9 532.8h0M705.6 532.8h0M758.2 532.8h0M802.1 532.8h0M819.6 532.8h0M828.4 532.8h0M293.4 541.6h0M302.2 541.6h0M311.0 541.6h0M319.7 541.6h0M328.5 541.6h0M337.3 541.6h0M346.0 541.6h0M354.8 541.6h0M363.6 541.6h0M372.4 541.6h0M381.1 541.6h0M521.4 541.6h0M530.2 541.6h0M539.0 541.6h0M547.8 541.6h0M556.5 541.6h0M565.3 541.6h0M574.1 541.6h0M582.8 541.6h0M591.6 541.6h0M600.4 541.6h0M609.1 541.6h0M617.9 541.6h0M758.2 541.6h0M767.0 541.6h0M784.5 541.6h0M793.3 541.6h0M802.1 541.6h0M293.4 550.3h0M302.2 550.3h0M311.0 550.3h0M319.7 550.3h0M328.5 550.3h0M337.3 550.3h0M346.0 550.3h0M354.8 550.3h0M363.6 550.3h0M372.4 550.3h0M381.1 550.3h0M521.4 550.3h0M530.2 550.3h0M539.0 550.3h0M547.8 550.3h0M556.5 550.3h0M565.3 550.3h0M574.1 550.3h0M582.8 550.3h0M591.6 550.3h0M600.4 550.3h0M609.1 550.3h0M767.0 550.3h0M784.5 550.3h0M793.3 550.3h0M802.1 550.3h0M837.2 550.3h0M284.6 559.1h0M293.4 559.1h0M302.2 559.1h0M311.0 559.1h0M319.7 559.1h0M328.5 559.1h0M337.3 559.1h0M346.0 559.1h0M354.8 559.1h0M363.6 559.1h0M372.4 559.1h0M381.1 559.1h0M389.9 559.1h0M398.7 559.1h0M530.2 559.1h0M539.0 559.1h0M547.8 559.1h0M556.5 559.1h0M565.3 559.1h0M574.1 559.1h0M582.8 559.1h0M591.6 559.1h0M600.4 559.1h0M767.0 559.1h0M775.8 559.1h0M810.8 559.1h0M819.6 559.1h0M872.2 559.1h0M881.0 559.1h0M889.8 559.1h0M293.4 567.9h0M302.2 567.9h0M311.0 567.9h0M319.7 567.9h0M328.5 567.9h0M337.3 567.9h0M346.0 567.9h0M354.8 567.9h0M363.6 567.9h0M372.4 567.9h0M381.1 567.9h0M389.9 567.9h0M398.7 567.9h0M407.4 567.9h0M539.0 567.9h0M547.8 567.9h0M556.5 567.9h0M565.3 567.9h0M574.1 567.9h0M582.8 567.9h0M591.6 567.9h0M600.4 567.9h0M784.5 567.9h0M802.1 567.9h0M819.6 567.9h0M872.2 567.9h0M881.0 567.9h0M293.4 576.6h0M302.2 576.6h0M311.0 576.6h0M319.7 576.6h0M328.5 576.6h0M337.3 576.6h0M346.0 576.6h0M354.8 576.6h0M363.6 576.6h0M372.4 576.6h0M381.1 576.6h0M389.9 576.6h0M398.7 576.6h0M539.0 576.6h0M547.8 576.6h0M556.5 576.6h0M565.3 576.6h0M574.1 576.6h0M582.8 576.6h0M591.6 576.6h0M600.4 576.6h0M845.9 576.6h0M872.2 576.6h0M302.2 585.4h0M311.0 585.4h0M319.7 585.4h0M328.5 585.4h0M337.3 585.4h0M346.0 585.4h0M354.8 585.4h0M363.6 585.4h0M372.4 585.4h0M381.1 585.4h0M389.9 585.4h0M530.2 585.4h0M539.0 585.4h0M547.8 585.4h0M556.5 585.4h0M565.3 585.4h0M574.1 585.4h0M582.8 585.4h0M591.6 585.4h0M600.4 585.4h0M626.7 585.4h0M828.4 585.4h0M837.2 585.4h0M845.9 585.4h0M854.7 585.4h0M872.2 585.4h0M319.7 594.2h0M328.5 594.2h0M337.3 594.2h0M346.0 594.2h0M354.8 594.2h0M363.6 594.2h0M372.4 594.2h0M381.1 594.2h0M389.9 594.2h0M530.2 594.2h0M539.0 594.2h0M547.8 594.2h0M556.5 594.2h0M565.3 594.2h0M574.1 594.2h0M582.8 594.2h0M591.6 594.2h0M617.9 594.2h0M626.7 594.2h0M819.6 594.2h0M828.4 594.2h0M837.2 594.2h0M845.9 594.2h0M854.7 594.2h0M863.5 594.2h0M872.2 594.2h0M881.0 594.2h0M319.7 602.9h0M328.5 602.9h0M337.3 602.9h0M346.0 602.9h0M354.8 602.9h0M363.6 602.9h0M372.4 602.9h0M381.1 602.9h0M389.9 602.9h0M539.0 602.9h0M547.8 602.9h0M556.5 602.9h0M565.3 602.9h0M574.1 602.9h0M582.8 602.9h0M617.9 602.9h0M802.1 602.9h0M810.8 602.9h0M819.6 602.9h0M828.4 602.9h0M837.2 602.9h0M845.9 602.9h0M854.7 602.9h0M863.5 602.9h0M872.2 602.9h0M881.0 602.9h0M319.7 611.7h0M328.5 611.7h0M337.3 611.7h0M346.0 611.7h0M354.8 611.7h0M363.6 611.7h0M372.4 611.7h0M539.0 611.7h0M547.8 611.7h0M556.5 611.7h0M565.3 611.7h0M574.1 611.7h0M582.8 611.7h0M617.9 611.7h0M793.3 611.7h0M802.1 611.7h0M810.8 611.7h0M819.6 611.7h0M828.4 611.7h0M837.2 611.7h0M845.9 611.7h0M854.7 611.7h0M863.5 611.7h0M872.2 611.7h0M881.0 611.7h0M889.8 611.7h0M319.7 620.5h0M328.5 620.5h0M337.3 620.5h0M346.0 620.5h0M354.8 620.5h0M363.6 620.5h0M539.0 620.5h0M547.8 620.5h0M556.5 620.5h0M565.3 620.5h0M574.1 620.5h0M802.1 620.5h0M810.8 620.5h0M819.6 620.5h0M828.4 620.5h0M837.2 620.5h0M845.9 620.5h0M854.7 620.5h0M863.5 620.5h0M872.2 620.5h0M881.0 620.5h0M889.8 620.5h0M898.5 620.5h0M311.0 629.3h0M319.7 629.3h0M328.5 629.3h0M337.3 629.3h0M346.0 629.3h0M354.8 629.3h0M363.6 629.3h0M547.8 629.3h0M556.5 629.3h0M565.3 629.3h0M574.1 629.3h0M802.1 629.3h0M810.8 629.3h0M819.6 629.3h0M828.4 629.3h0M837.2 629.3h0M845.9 629.3h0M854.7 629.3h0M863.5 629.3h0M872.2 629.3h0M881.0 629.3h0M889.8 629.3h0M898.5 629.3h0M311.0 638.0h0M319.7 638.0h0M328.5 638.0h0M337.3 638.0h0M346.0 638.0h0M354.8 638.0h0M547.8 638.0h0M556.5 638.0h0M565.3 638.0h0M802.1 638.0h0M810.8 638.0h0M819.6 638.0h0M845.9 638.0h0M854.7 638.0h0M863.5 638.0h0M872.2 638.0h0M881.0 638.0h0M889.8 638.0h0M311.0 646.8h0M319.7 646.8h0M328.5 646.8h0M337.3 646.8h0M346.0 646.8h0M354.8 646.8h0M863.5 646.8h0M872.2 646.8h0M881.0 646.8h0M889.8 646.8h0M311.0 655.6h0M319.7 655.6h0M328.5 655.6h0M337.3 655.6h0M346.0 655.6h0M872.2 655.6h0M881.0 655.6h0M311.0 664.3h0M319.7 664.3h0M328.5 664.3h0M872.2 664.3h0M881.0 664.3h0M311.0 673.1h0M319.7 673.1h0M328.5 673.1h0M881.0 673.1h0M311.0 681.9h0M319.7 681.9h0M302.2 690.6h0M311.0 690.6h0M319.7 690.6h0M311.0 699.4h0M319.7 699.4h0" fill="none" stroke="#f3c4ea" stroke-opacity="0.45" stroke-width="8.8" stroke-linecap="round"/>
<path d="M407.4 120.6h0M416.2 120.6h0M425.0 120.6h0M293.4 129.4h0M311.0 129.4h0M319.7 129.4h0M381.1 129.4h0M389.9 129.4h0M398.7 129.4h0M407.4 129.4h0M416.2 129.4h0M425.0 129.4h0M433.7 129.4h0M275.9 138.1h0M284.6 138.1h0M293.4 138.1h0M302.2 138.1h0M311.0 138.1h0M319.7 138.1h0M328.5 138.1h0M337.3 138.1h0M389.9 138.1h0M398.7 138.1h0M407.4 138.1h0M416.2 138.1h0M425.0 138.1h0M433.7 138.1h0M275.9 146.9h0M284.6 146.9h0M293.4 146.9h0M302.2 146.9h0M311.0 146.9h0M319.7 146.9h0M328.5 146.9h0M346.0 146.9h0M354.8 146.9h0M372.4 146.9h0M381.1 146.9h0M389.9 146.9h0M398.7 146.9h0M407.4 146.9h0M416.2 146.9h0M258.3 155.7h0M267.1 155.7h0M275.9 155.7h0M284.6 155.7h0M293.4 155.7h0M302.2 155.7h0M311.0 155.7h0M319.7 155.7h0M337.3 155.7h0M346.0 155.7h0M354.8 155.7h0M363.6 155.7h0M372.4 155.7h0M381.1 155.7h0M389.9 155.7h0M398.7 155.7h0M407.4 155.7h0M416.2 155.7h0M425.0 155.7h0M433.7 155.7h0M451.3 155.7h0M460.0 155.7h0M249.6 164.4h0M267.1 164.4h0M275.9 164.4h0M284.6 164.4h0M293.4 164.4h0M302.2 164.4h0M311.0 164.4h0M319.7 164.4h0M337.3 164.4h0M346.0 164.4h0M354.8 164.4h0M363.6 164.4h0M372.4 164.4h0M381.1 164.4h0M389.9 164.4h0M398.7 164.4h0M407.4 164.4h0M416.2 164.4h0M425.0 164.4h0M433.7 164.4h0M442.5 164.4h0M451.3 164.4h0M460.0 164.4h0M644.2 164.4h0M661.8 164.4h0M670.5 164.4h0M740.7 164.4h0M249.6 173.2h0M258.3 173.2h0M293.4 173.2h0M302.2 173.2h0M311.0 173.2h0M328.5 173.2h0M337.3 173.2h0M346.0 173.2h0M354.8 173.2h0M363.6 173.2h0M372.4 173.2h0M381.1 173.2h0M389.9 173.2h0M398.7 173.2h0M407.4 173.2h0M416.2 173.2h0M425.0 173.2h0M433.7 173.2h0M442.5 173.2h0M451.3 173.2h0M617.9 173.2h0M626.7 173.2h0M644.2 173.2h0M653.0 173.2h0M661.8 173.2h0M740.7 173.2h0M749.5 173.2h0M249.6 182.0h0M258.3 182.0h0M267.1 182.0h0M275.9 182.0h0M284.6 182.0h0M293.4 182.0h0M302.2 182.0h0M311.0 182.0h0M328.5 182.0h0M337.3 182.0h0M346.0 182.0h0M354.8 182.0h0M363.6 182.0h0M372.4 182.0h0M381.1 182.0h0M389.9 182.0h0M398.7 182.0h0M407.4 182.0h0M416.2 182.0h0M425.0 182.0h0M433.7 182.0h0M442.5 182.0h0M451.3 182.0h0M547.8 182.0h0M556.5 182.0h0M565.3 182.0h0M617.9 182.0h0M644.2 182.0h0M749.5 182.0h0M223.3 190.8h0M249.6 190.8h0M258.3 190.8h0M267.1 190.8h0M275.9 190.8h0M284.6 190.8h0M293.4 190.8h0M302.2 190.8h0M328.5 190.8h0M337.3 190.8h0M346.0 190.8h0M354.8 190.8h0M363.6 190.8h0M372.4 190.8h0M381.1 190.8h0M389.9 190.8h0M398.7 190.8h0M407.4 190.8h0M416.2 190.8h0M425.0 190.8h0M433.7 190.8h0M442.5 190.8h0M530.2 190.8h0M539.0 190.8h0M547.8 190.8h0M556.5 190.8h0M565.3 190.8h0M740.7 190.8h0M749.5 190.8h0M758.2 190.8h0M223.3 199.5h0M232.0 199.5h0M240.8 199.5h0M258.3 199.5h0M267.1 199.5h0M275.9 199.5h0M284.6 199.5h0M293.4 199.5h0M319.7 199.5h0M328.5 199.5h0M337.3 199.5h0M346.0 199.5h0M354.8 199.5h0M363.6 199.5h0M372.4 199.5h0M381.1 199.5h0M389.9 199.5h0M398.7 199.5h0M407.4 199.5h0M416.2 199.5h0M425.0 199.5h0M433.7 199.5h0M442.5 199.5h0M530.2 199.5h0M539.0 199.5h0M547.8 199.5h0M749.5 199.5h0M758.2 199.5h0M767.0 199.5h0M775.8 199.5h0M232.0 208.3h0M240.8 208.3h0M249.6 208.3h0M275.9 208.3h0M284.6 208.3h0M293.4 208.3h0M311.0 208.3h0M319.7 208.3h0M328.5 208.3h0M337.3 208.3h0M346.0 208.3h0M354.8 208.3h0M363.6 208.3h0M372.4 208.3h0M381.1 208.3h0M389.9 208.3h0M398.7 208.3h0M407.4 208.3h0M416.2 208.3h0M425.0 208.3h0M433.7 208.3h0M442.5 208.3h0M539.0 208.3h0M547.8 208.3h0M556.5 208.3h0M767.0 208.3h0M196.9 217.1h0M275.9 217.1h0M284.6 217.1h0M293.4 217.1h0M319.7 217.1h0M328.5 217.1h0M337.3 217.1h0M346.0 217.1h0M354.8 217.1h0M363.6 217.1h0M372.4 217.1h0M381.1 217.1h0M389.9 217.1h0M398.7 217.1h0M407.4 217.1h0M416.2 217.1h0M425.0 217.1h0M433.7 217.1h0M442.5 217.1h0M539.0 217.1h0M556.5 217.1h0M767.0 217.1h0M179.4 225.8h0M188.2 225.8h0M196.9 225.8h0M249.6 225.8h0M258.3 225.8h0M267.1 225.8h0M275.9 225.8h0M284.6 225.8h0M293.4 225.8h0M319.7 225.8h0M328.5 225.8h0M337.3 225.8h0M346.0 225.8h0M354.8 225.8h0M363.6 225.8h0M372.4 225.8h0M381.1 225.8h0M389.9 225.8h0M398.7 225.8h0M407.4 225.8h0M416.2 225.8h0M425.0 225.8h0M433.7 225.8h0M442.5 225.8h0M451.3 225.8h0M539.0 225.8h0M670.5 225.8h0M679.3 225.8h0M758.2 225.8h0M767.0 225.8h0M775.8 225.8h0M784.5 225.8h0M179.4 234.6h0M188.2 234.6h0M196.9 234.6h0M205.7 234.6h0M214.5 234.6h0M240.8 234.6h0M258.3 234.6h0M267.1 234.6h0M275.9 234.6h0M284.6 234.6h0M319.7 234.6h0M346.0 234.6h0M354.8 234.6h0M363.6 234.6h0M372.4 234.6h0M381.1 234.6h0M389.9 234.6h0M398.7 234.6h0M407.4 234.6h0M416.2 234.6h0M425.0 234.6h0M433.7 234.6h0M442.5 234.6h0M653.0 234.6h0M661.8 234.6h0M670.5 234.6h0M740.7 234.6h0M749.5 234.6h0M758.2 234.6h0M767.0 234.6h0M775.8 234.6h0M784.5 234.6h0M793.3 234.6h0M854.7 234.6h0M863.5 234.6h0M872.2 234.6h0M196.9 243.4h0M205.7 243.4h0M214.5 243.4h0M240.8 243.4h0M249.6 243.4h0M258.3 243.4h0M267.1 243.4h0M275.9 243.4h0M284.6 243.4h0M354.8 243.4h0M363.6 243.4h0M372.4 243.4h0M381.1 243.4h0M389.9 243.4h0M398.7 243.4h0M407.4 243.4h0M416.2 243.4h0M425.0 243.4h0M433.7 243.4h0M442.5 243.4h0M644.2 243.4h0M653.0 243.4h0M723.1 243.4h0M731.9 243.4h0M740.7 243.4h0M749.5 243.4h0M758.2 243.4h0M767.0 243.4h0M775.8 243.4h0M784.5 243.4h0M863.5 243.4h0M872.2 243.4h0M881.0 243.4h0M179.4 252.1h0M188.2 252.1h0M196.9 252.1h0M240.8 252.1h0M249.6 252.1h0M354.8 252.1h0M363.6 252.1h0M372.4 252.1h0M381.1 252.1h0M389.9 252.1h0M398.7 252.1h0M407.4 252.1h0M416.2 252.1h0M425.0 252.1h0M433.7 252.1h0M442.5 252.1h0M644.2 252.1h0M723.1 252.1h0M731.9 252.1h0M740.7 252.1h0M749.5 252.1h0M758.2 252.1h0M767.0 252.1h0M775.8 252.1h0M170.6 260.9h0M179.4 260.9h0M188.2 260.9h0M196.9 260.9h0M205.7 260.9h0M214.5 260.9h0M223.3 260.9h0M240.8 260.9h0M249.6 260.9h0M258.3 260.9h0M267.1 260.9h0M275.9 260.9h0M284.6 260.9h0M293.4 260.9h0M354.8 260.9h0M363.6 260.9h0M372.4 260.9h0M381.1 260.9h0M389.9 260.9h0M398.7 260.9h0M407.4 260.9h0M416.2 260.9h0M425.0 260.9h0M635.4 260.9h0M644.2 260.9h0M679.3 260.9h0M714.4 260.9h0M723.1 260.9h0M731.9 260.9h0M740.7 260.9h0M749.5 260.9h0M758.2 260.9h0M767.0 260.9h0M775.8 260.9h0M784.5 260.9h0M793.3 260.9h0M802.1 260.9h0M810.8 260.9h0M863.5 260.9h0M872.2 260.9h0M170.6 269.7h0M179.4 269.7h0M188.2 269.7h0M196.9 269.7h0M205.7 269.7h0M214.5 269.7h0M232.0 269.7h0M240.8 269.7h0M249.6 269.7h0M267.1 269.7h0M275.9 269.7h0M284.6 269.7h0M293.4 269.7h0M302.2 269.7h0M354.8 269.7h0M363.6 269.7h0M372.4 269.7h0M381.1 269.7h0M389.9 269.7h0M398.7 269.7h0M407.4 269.7h0M416.2 269.7h0M425.0 269.7h0M433.7 269.7h0M635.4 269.7h0M644.2 269.7h0M679.3 269.7h0M696.8 269.7h0M714.4 269.7h0M723.1 269.7h0M731.9 269.7h0M740.7 269.7h0M749.5 269.7h0M758.2 269.7h0M767.0 269.7h0M775.8 269.7h0M784.5 269.7h0M793.3 269.7h0M802.1 269.7h0M810.8 269.7h0M819.6 269.7h0M828.4 269.7h0M863.5 269.7h0M872.2 269.7h0M881.0 269.7h0M91.7 278.5h0M179.4 278.5h0M196.9 278.5h0M205.7 278.5h0M214.5 278.5h0M223.3 278.5h0M249.6 278.5h0M267.1 278.5h0M275.9 278.5h0M284.6 278.5h0M293.4 278.5h0M302.2 278.5h0M311.0 278.5h0M354.8 278.5h0M363.6 278.5h0M372.4 278.5h0M381.1 278.5h0M389.9 278.5h0M398.7 278.5h0M407.4 278.5h0M416.2 278.5h0M425.0 278.5h0M433.7 278.5h0M442.5 278.5h0M574.1 278.5h0M635.4 278.5h0M644.2 278.5h0M679.3 278.5h0M688.1 278.5h0M696.8 278.5h0M705.6 278.5h0M714.4 278.5h0M723.1 278.5h0M731.9 278.5h0M740.7 278.5h0M749.5 278.5h0M758.2 278.5h0M767.0 278.5h0M775.8 278.5h0M784.5 278.5h0M793.3 278.5h0M802.1 278.5h0M810.8 278.5h0M819.6 278.5h0M828.4 278.5h0M837.2 278.5h0M845.9 278.5h0M854.7 278.5h0M863.5 278.5h0M872.2 278.5h0M881.0 278.5h0M889.8 278.5h0M907.3 278.5h0M74.2 287.2h0M82.9 287.2h0M91.7 287.2h0M100.5 287.2h0M109.2 287.2h0M118.0 287.2h0M153.1 287.2h0M161.9 287.2h0M170.6 287.2h0M179.4 287.2h0M196.9 287.2h0M205.7 287.2h0M214.5 287.2h0M223.3 287.2h0M232.0 287.2h0M240.8 287.2h0M249.6 287.2h0M258.3 287.2h0M275.9 287.2h0M284.6 287.2h0M293.4 287.2h0M302.2 287.2h0M311.0 287.2h0M319.7 287.2h0M354.8 287.2h0M363.6 287.2h0M372.4 287.2h0M381.1 287.2h0M389.9 287.2h0M398.7 287.2h0M407.4 287.2h0M416.2 287.2h0M425.0 287.2h0M433.7 287.2h0M574.1 287.2h0M679.3 287.2h0M688.1 287.2h0M696.8 287.2h0M705.6 287.2h0M714.4 287.2h0M723.1 287.2h0M731.9 287.2h0M740.7 287.2h0M749.5 287.2h0M758.2 287.2h0M767.0 287.2h0M775.8 287.2h0M784.5 287.2h0M793.3 287.2h0M802.1 287.2h0M810.8 287.2h0M819.6 287.2h0M828.4 287.2h0M837.2 287.2h0M845.9 287.2h0M854.7 287.2h0M863.5 287.2h0M872.2 287.2h0M881.0 287.2h0M889.8 287.2h0M898.5 287.2h0M907.3 287.2h0M942.4 287.2h0M951.2 287.2h0M65.4 296.0h0M74.2 296.0h0M82.9 296.0h0M91.7 296.0h0M100.5 296.0h0M109.2 296.0h0M118.0 296.0h0M126.8 296.0h0M135.6 296.0h0M144.3 296.0h0M153.1 296.0h0M161.9 296.0h0M170.6 296.0h0M179.4 296.0h0M188.2 296.0h0M196.9 296.0h0M205.7 296.0h0M240.8 296.0h0M249.6 296.0h0M258.3 296.0h0M275.9 296.0h0M284.6 296.0h0M302.2 296.0h0M311.0 296.0h0M319.7 296.0h0M328.5 296.0h0M363.6 296.0h0M372.4 296.0h0M381.1 296.0h0M389.9 296.0h0M398.7 296.0h0M407.4 296.0h0M416.2 296.0h0M425.0 296.0h0M547.8 296.0h0M556.5 296.0h0M565.3 296.0h0M574.1 296.0h0M582.8 296.0h0M591.6 296.0h0M644.2 296.0h0M653.0 296.0h0M661.8 296.0h0M670.5 296.0h0M679.3 296.0h0M696.8 296.0h0M705.6 296.0h0M714.4 296.0h0M723.1 296.0h0M731.9 296.0h0M740.7 296.0h0M749.5 296.0h0M758.2 296.0h0M767.0 296.0h0M775.8 296.0h0M784.5 296.0h0M793.3 296.0h0M802.1 296.0h0M810.8 296.0h0M819.6 296.0h0M828.4 296.0h0M837.2 296.0h0M845.9 296.0h0M854.7 296.0h0M863.5 296.0h0M872.2 296.0h0M881.0 296.0h0M889.8 296.0h0M898.5 296.0h0M907.3 296.0h0M916.1 296.0h0M924.9 296.0h0M933.6 296.0h0M942.4 296.0h0M951.2 296.0h0M74.2 304.8h0M82.9 304.8h0M91.7 304.8h0M100.5 304.8h0M109.2 304.8h0M118.0 304.8h0M126.8 304.8h0M135.6 304.8h0M144.3 304.8h0M153.1 304.8h0M161.9 304.8h0M170.6 304.8h0M179.4 304.8h0M188.2 304.8h0M196.9 304.8h0M205.7 304.8h0M214.5 304.8h0M223.3 304.8h0M232.0 304.8h0M240.8 304.8h0M249.6 304.8h0M258.3 304.8h0M267.1 304.8h0M275.9 304.8h0M284.6 304.8h0M302.2 304.8h0M311.0 304.8h0M319.7 304.8h0M328.5 304.8h0M363.6 304.8h0M372.4 304.8h0M381.1 304.8h0M389.9 304.8h0M398.7 304.8h0M407.4 304.8h0M539.0 304.8h0M547.8 304.8h0M556.5 304.8h0M565.3 304.8h0M574.1 304.8h0M582.8 304.8h0M591.6 304.8h0M600.4 304.8h0M609.1 304.8h0M617.9 304.8h0M626.7 304.8h0M635.4 304.8h0M644.2 304.8h0M653.0 304.8h0M661.8 304.8h0M670.5 304.8h0M679.3 304.8h0M688.1 304.8h0M696.8 304.8h0M705.6 304.8h0M714.4 304.8h0M723.1 304.8h0M731.9 304.8h0M740.7 304.8h0M749.5 304.8h0M758.2 304.8h0M767.0 304.8h0M775.8 304.8h0M784.5 304.8h0M793.3 304.8h0M802.1 304.8h0M810.8 304.8h0M819.6 304.8h0M828.4 304.8h0M837.2 304.8h0M845.9 304.8h0M854.7 304.8h0M863.5 304.8h0M872.2 304.8h0M881.0 304.8h0M889.8 304.8h0M898.5 304.8h0M907.3 304.8h0M916.1 304.8h0M924.9 304.8h0M933.6 304.8h0M942.4 304.8h0M951.2 304.8h0M65.4 313.5h0M74.2 313.5h0M82.9 313.5h0M91.7 313.5h0M100.5 313.5h0M109.2 313.5h0M118.0 313.5h0M126.8 313.5h0M135.6 313.5h0M144.3 313.5h0M153.1 313.5h0M161.9 313.5h0M170.6 313.5h0M179.4 313.5h0M188.2 313.5h0M196.9 313.5h0M205.7 313.5h0M214.5 313.5h0M223.3 313.5h0M232.0 313.5h0M240.8 313.5h0M249.6 313.5h0M258.3 313.5h0M267.1 313.5h0M275.9 313.5h0M302.2 313.5h0M311.0 313.5h0M319.7 313.5h0M328.5 313.5h0M337.3 313.5h0M363.6 313.5h0M372.4 313.5h0M381.1 313.5h0M389.9 313.5h0M398.7 313.5h0M442.5 313.5h0M451.3 313.5h0M460.0 313.5h0M539.0 313.5h0M547.8 313.5h0M556.5 313.5h0M565.3 313.5h0M574.1 313.5h0M582.8 313.5h0M591.6 313.5h0M600.4 313.5h0M609.1 313.5h0M617.9 313.5h0M626.7 313.5h0M635.4 313.5h0M644.2 313.5h0M653.0 313.5h0M661.8 313.5h0M670.5 313.5h0M679.3 313.5h0M688.1 313.5h0M696.8 313.5h0M705.6 313.5h0M714.4 313.5h0M723.1 313.5h0M731.9 313.5h0M740.7 313.5h0M749.5 313.5h0M758.2 313.5h0M767.0 313.5h0M775.8 313.5h0M784.5 313.5h0M793.3 313.5h0M802.1 313.5h0M810.8 313.5h0M819.6 313.5h0M828.4 313.5h0M837.2 313.5h0M845.9 313.5h0M854.7 313.5h0M863.5 313.5h0M872.2 313.5h0M881.0 313.5h0M889.8 313.5h0M898.5 313.5h0M907.3 313.5h0M916.1 313.5h0M924.9 313.5h0M933.6 313.5h0M942.4 313.5h0M951.2 313.5h0M65.4 322.3h0M74.2 322.3h0M82.9 322.3h0M91.7 322.3h0M100.5 322.3h0M109.2 322.3h0M118.0 322.3h0M126.8 322.3h0M135.6 322.3h0M144.3 322.3h0M153.1 322.3h0M161.9 322.3h0M170.6 322.3h0M179.4 322.3h0M188.2 322.3h0M196.9 322.3h0M205.7 322.3h0M214.5 322.3h0M223.3 322.3h0M232.0 322.3h0M240.8 322.3h0M249.6 322.3h0M258.3 322.3h0M267.1 322.3h0M275.9 322.3h0M284.6 322.3h0M302.2 322.3h0M311.0 322.3h0M319.7 322.3h0M363.6 322.3h0M372.4 322.3h0M381.1 322.3h0M389.9 322.3h0M442.5 322.3h0M451.3 322.3h0M460.0 322.3h0M530.2 322.3h0M539.0 322.3h0M547.8 322.3h0M556.5 322.3h0M565.3 322.3h0M574.1 322.3h0M582.8 322.3h0M591.6 322.3h0M600.4 322.3h0M609.1 322.3h0M617.9 322.3h0M626.7 322.3h0M635.4 322.3h0M644.2 322.3h0M653.0 322.3h0M661.8 322.3h0M670.5 322.3h0M679.3 322.3h0M688.1 322.3h0M696.8 322.3h0M705.6 322.3h0M714.4 322.3h0M723.1 322.3h0M731.9 322.3h0M740.7 322.3h0M749.5 322.3h0M758.2 322.3h0M767.0 322.3h0M775.8 322.3h0M784.5 322.3h0M793.3 322.3h0M802.1 322.3h0M810.8 322.3h0M819.6 322.3h0M828.4 322.3h0M837.2 322.3h0M845.9 322.3h0M854.7 322.3h0M863.5 322.3h0M872.2 322.3h0M881.0 322.3h0M889.8 322.3h0M898.5 322.3h0M907.3 322.3h0M916.1 322.3h0M924.9 322.3h0M933.6 322.3h0M942.4 322.3h0M74.2 331.1h0M82.9 331.1h0M91.7 331.1h0M100.5 331.1h0M109.2 331.1h0M118.0 331.1h0M126.8 331.1h0M135.6 331.1h0M144.3 331.1h0M153.1 331.1h0M161.9 331.1h0M170.6 331.1h0M179.4 331.1h0M188.2 331.1h0M196.9 331.1h0M205.7 331.1h0M214.5 331.1h0M223.3 331.1h0M232.0 331.1h0M240.8 331.1h0M249.6 331.1h0M258.3 331.1h0M319.7 331.1h0M328.5 331.1h0M363.6 331.1h0M372.4 331.1h0M381.1 331.1h0M389.9 331.1h0M442.5 331.1h0M451.3 331.1h0M521.4 331.1h0M530.2 331.1h0M539.0 331.1h0M547.8 331.1h0M556.5 331.1h0M565.3 331.1h0M574.1 331.1h0M582.8 331.1h0M591.6 331.1h0M600.4 331.1h0M609.1 331.1h0M617.9 331.1h0M626.7 331.1h0M635.4 331.1h0M644.2 331.1h0M653.0 331.1h0M661.8 331.1h0M670.5 331.1h0M679.3 331.1h0M688.1 331.1h0M696.8 331.1h0M705.6 331.1h0M714.4 331.1h0M723.1 331.1h0M731.9 331.1h0M740.7 331.1h0M749.5 331.1h0M758.2 331.1h0M767.0 331.1h0M775.8 331.1h0M784.5 331.1h0M793.3 331.1h0M802.1 331.1h0M810.8 331.1h0M819.6 331.1h0M828.4 331.1h0M837.2 331.1h0M845.9 331.1h0M854.7 331.1h0M863.5 331.1h0M872.2 331.1h0M881.0 331.1h0M889.8 331.1h0M898.5 331.1h0M907.3 331.1h0M916.1 331.1h0M924.9 331.1h0M933.6 331.1h0M942.4 331.1h0M65.4 339.9h0M74.2 339.9h0M82.9 339.9h0M91.7 339.9h0M100.5 339.9h0M109.2 339.9h0M118.0 339.9h0M126.8 339.9h0M135.6 339.9h0M144.3 339.9h0M153.1 339.9h0M161.9 339.9h0M170.6 339.9h0M179.4 339.9h0M188.2 339.9h0M196.9 339.9h0M205.7 339.9h0M214.5 339.9h0M223.3 339.9h0M232.0 339.9h0M240.8 339.9h0M249.6 339.9h0M302.2 339.9h0M311.0 339.9h0M372.4 339.9h0M381.1 339.9h0M512.7 339.9h0M521.4 339.9h0M530.2 339.9h0M539.0 339.9h0M547.8 339.9h0M556.5 339.9h0M565.3 339.9h0M574.1 339.9h0M582.8 339.9h0M591.6 339.9h0M600.4 339.9h0M609.1 339.9h0M617.9 339.9h0M626.7 339.9h0M635.4 339.9h0M644.2 339.9h0M653.0 339.9h0M661.8 339.9h0M670.5 339.9h0M679.3 339.9h0M688.1 339.9h0M696.8 339.9h0M705.6 339.9h0M714.4 339.9h0M723.1 339.9h0M731.9 339.9h0M740.7 339.9h0M749.5 339.9h0M758.2 339.9h0M767.0 339.9h0M775.8 339.9h0M784.5 339.9h0M793.3 339.9h0M802.1 339.9h0M810.8 339.9h0M819.6 339.9h0M828.4 339.9h0M837.2 339.9h0M845.9 339.9h0M854.7 339.9h0M863.5 339.9h0M872.2 339.9h0M881.0 339.9h0M889.8 339.9h0M898.5 339.9h0M907.3 339.9h0M916.1 339.9h0M924.9 339.9h0M933.6 339.9h0M942.4 339.9h0M65.4 348.6h0M74.2 348.6h0M82.9 348.6h0M91.7 348.6h0M100.5 348.6h0M109.2 348.6h0M126.8 348.6h0M135.6 348.6h0M144.3 348.6h0M153.1 348.6h0M161.9 348.6h0M170.6 348.6h0M179.4 348.6h0M188.2 348.6h0M196.9 348.6h0M205.7 348.6h0M214.5 348.6h0M223.3 348.6h0M232.0 348.6h0M240.8 348.6h0M249.6 348.6h0M258.3 348.6h0M267.1 348.6h0M275.9 348.6h0M284.6 348.6h0M293.4 348.6h0M302.2 348.6h0M311.0 348.6h0M381.1 348.6h0M512.7 348.6h0M521.4 348.6h0M530.2 348.6h0M539.0 348.6h0M556.5 348.6h0M582.8 348.6h0M591.6 348.6h0M600.4 348.6h0M609.1 348.6h0M617.9 348.6h0M626.7 348.6h0M635.4 348.6h0M644.2 348.6h0M653.0 348.6h0M661.8 348.6h0M670.5 348.6h0M679.3 348.6h0M688.1 348.6h0M696.8 348.6h0M705.6 348.6h0M714.4 348.6h0M723.1 348.6h0M731.9 348.6h0M740.7 348.6h0M749.5 348.6h0M758.2 348.6h0M767.0 348.6h0M775.8 348.6h0M784.5 348.6h0M793.3 348.6h0M802.1 348.6h0M810.8 348.6h0M819.6 348.6h0M828.4 348.6h0M837.2 348.6h0M845.9 348.6h0M854.7 348.6h0M863.5 348.6h0M872.2 348.6h0M881.0 348.6h0M889.8 348.6h0M898.5 348.6h0M924.9 348.6h0M933.6 348.6h0M82.9 357.4h0M91.7 357.4h0M100.5 357.4h0M144.3 357.4h0M153.1 357.4h0M161.9 357.4h0M170.6 357.4h0M179.4 357.4h0M188.2 357.4h0M196.9 357.4h0M205.7 357.4h0M214.5 357.4h0M223.3 357.4h0M232.0 357.4h0M240.8 357.4h0M249.6 357.4h0M258.3 357.4h0M267.1 357.4h0M275.9 357.4h0M284.6 357.4h0M293.4 357.4h0M302.2 357.4h0M311.0 357.4h0M319.7 357.4h0M328.5 357.4h0M337.3 357.4h0M512.7 357.4h0M521.4 357.4h0M530.2 357.4h0M539.0 357.4h0M565.3 357.4h0M574.1 357.4h0M582.8 357.4h0M591.6 357.4h0M600.4 357.4h0M609.1 357.4h0M617.9 357.4h0M626.7 357.4h0M635.4 357.4h0M644.2 357.4h0M653.0 357.4h0M661.8 357.4h0M670.5 357.4h0M679.3 357.4h0M688.1 357.4h0M696.8 357.4h0M705.6 357.4h0M714.4 357.4h0M723.1 357.4h0M731.9 357.4h0M740.7 357.4h0M749.5 357.4h0M758.2 357.4h0M767.0 357.4h0M775.8 357.4h0M784.5 357.4h0M793.3 357.4h0M802.1 357.4h0M810.8 357.4h0M819.6 357.4h0M828.4 357.4h0M837.2 357.4h0M845.9 357.4h0M854.7 357.4h0M863.5 357.4h0M872.2 357.4h0M916.1 357.4h0M82.9 366.2h0M91.7 366.2h0M153.1 366.2h0M161.9 366.2h0M170.6 366.2h0M179.4 366.2h0M188.2 366.2h0M196.9 366.2h0M205.7 366.2h0M214.5 366.2h0M223.3 366.2h0M232.0 366.2h0M240.8 366.2h0M249.6 366.2h0M258.3 366.2h0M267.1 366.2h0M275.9 366.2h0M284.6 366.2h0M293.4 366.2h0M302.2 366.2h0M311.0 366.2h0M319.7 366.2h0M328.5 366.2h0M337.3 366.2h0M486.4 366.2h0M495.1 366.2h0M539.0 366.2h0M556.5 366.2h0M565.3 366.2h0M574.1 366.2h0M582.8 366.2h0M591.6 366.2h0M600.4 366.2h0M609.1 366.2h0M617.9 366.2h0M626.7 366.2h0M635.4 366.2h0M644.2 366.2h0M653.0 366.2h0M661.8 366.2h0M670.5 366.2h0M679.3 366.2h0M688.1 366.2h0M696.8 366.2h0M705.6 366.2h0M714.4 366.2h0M723.1 366.2h0M731.9 366.2h0M740.7 366.2h0M749.5 366.2h0M758.2 366.2h0M767.0 366.2h0M775.8 366.2h0M784.5 366.2h0M793.3 366.2h0M802.1 366.2h0M810.8 366.2h0M819.6 366.2h0M828.4 366.2h0M837.2 366.2h0M845.9 366.2h0M854.7 366.2h0M907.3 366.2h0M916.1 366.2h0M65.4 374.9h0M74.2 374.9h0M153.1 374.9h0M161.9 374.9h0M170.6 374.9h0M179.4 374.9h0M188.2 374.9h0M196.9 374.9h0M205.7 374.9h0M214.5 374.9h0M223.3 374.9h0M232.0 374.9h0M240.8 374.9h0M249.6 374.9h0M258.3 374.9h0M267.1 374.9h0M275.9 374.9h0M284.6 374.9h0M293.4 374.9h0M302.2 374.9h0M311.0 374.9h0M319.7 374.9h0M328.5 374.9h0M337.3 374.9h0M346.0 374.9h0M477.6 374.9h0M486.4 374.9h0M495.1 374.9h0M521.4 374.9h0M530.2 374.9h0M539.0 374.9h0M547.8 374.9h0M556.5 374.9h0M565.3 374.9h0M574.1 374.9h0M582.8 374.9h0M591.6 374.9h0M600.4 374.9h0M609.1 374.9h0M617.9 374.9h0M626.7 374.9h0M635.4 374.9h0M644.2 374.9h0M653.0 374.9h0M661.8 374.9h0M670.5 374.9h0M679.3 374.9h0M688.1 374.9h0M696.8 374.9h0M705.6 374.9h0M714.4 374.9h0M723.1 374.9h0M731.9 374.9h0M740.7 374.9h0M749.5 374.9h0M758.2 374.9h0M767.0 374.9h0M775.8 374.9h0M784.5 374.9h0M793.3 374.9h0M802.1 374.9h0M810.8 374.9h0M819.6 374.9h0M828.4 374.9h0M837.2 374.9h0M845.9 374.9h0M854.7 374.9h0M863.5 374.9h0M907.3 374.9h0M916.1 374.9h0M161.9 383.7h0M170.6 383.7h0M179.4 383.7h0M188.2 383.7h0M196.9 383.7h0M205.7 383.7h0M214.5 383.7h0M223.3 383.7h0M232.0 383.7h0M240.8 383.7h0M249.6 383.7h0M258.3 383.7h0M267.1 383.7h0M275.9 383.7h0M284.6 383.7h0M293.4 383.7h0M302.2 383.7h0M311.0 383.7h0M319.7 383.7h0M328.5 383.7h0M337.3 383.7h0M346.0 383.7h0M477.6 383.7h0M486.4 383.7h0M495.1 383.7h0M512.7 383.7h0M521.4 383.7h0M539.0 383.7h0M547.8 383.7h0M556.5 383.7h0M565.3 383.7h0M574.1 383.7h0M582.8 383.7h0M591.6 383.7h0M600.4 383.7h0M609.1 383.7h0M617.9 383.7h0M626.7 383.7h0M635.4 383.7h0M644.2 383.7h0M653.0 383.7h0M661.8 383.7h0M670.5 383.7h0M679.3 383.7h0M688.1 383.7h0M696.8 383.7h0M705.6 383.7h0M714.4 383.7h0M723.1 383.7h0M731.9 383.7h0M740.7 383.7h0M749.5 383.7h0M758.2 383.7h0M767.0 383.7h0M775.8 383.7h0M784.5 383.7h0M793.3 383.7h0M802.1 383.7h0M810.8 383.7h0M819.6 383.7h0M828.4 383.7h0M837.2 383.7h0M845.9 383.7h0M854.7 383.7h0M863.5 383.7h0M872.2 383.7h0M907.3 383.7h0M161.9 392.5h0M170.6 392.5h0M179.4 392.5h0M188.2 392.5h0M196.9 392.5h0M205.7 392.5h0M214.5 392.5h0M223.3 392.5h0M232.0 392.5h0M240.8 392.5h0M249.6 392.5h0M258.3 392.5h0M267.1 392.5h0M275.9 392.5h0M284.6 392.5h0M293.4 392.5h0M302.2 392.5h0M311.0 392.5h0M319.7 392.5h0M328.5 392.5h0M337.3 392.5h0M346.0 392.5h0M486.4 392.5h0M503.9 392.5h0M512.7 392.5h0M521.4 392.5h0M530.2 392.5h0M539.0 392.5h0M547.8 392.5h0M556.5 392.5h0M565.3 392.5h0M574.1 392.5h0M582.8 392.5h0M591.6 392.5h0M600.4 392.5h0M609.1 392.5h0M617.9 392.5h0M626.7 392.5h0M635.4 392.5h0M644.2 392.5h0M653.0 392.5h0M661.8 392.5h0M670.5 392.5h0M679.3 392.5h0M688.1 392.5h0M696.8 392.5h0M705.6 392.5h0M714.4 392.5h0M723.1 392.5h0M731.9 392.5h0M740.7 392.5h0M749.5 392.5h0M758.2 392.5h0M767.0 392.5h0M775.8 392.5h0M784.5 392.5h0M793.3 392.5h0M802.1 392.5h0M810.8 392.5h0M819.6 392.5h0M828.4 392.5h0M837.2 392.5h0M845.9 392.5h0M854.7 392.5h0M863.5 392.5h0M872.2 392.5h0M907.3 392.5h0M170.6 401.2h0M179.4 401.2h0M188.2 401.2h0M196.9 401.2h0M205.7 401.2h0M214.5 401.2h0M223.3 401.2h0M232.0 401.2h0M240.8 401.2h0M249.6 401.2h0M258.3 401.2h0M267.1 401.2h0M275.9 401.2h0M284.6 401.2h0M293.4 401.2h0M302.2 401.2h0M311.0 401.2h0M319.7 401.2h0M346.0 401.2h0M354.8 401.2h0M486.4 401.2h0M495.1 401.2h0M503.9 401.2h0M512.7 401.2h0M521.4 401.2h0M530.2 401.2h0M539.0 401.2h0M547.8 401.2h0M556.5 401.2h0M565.3 401.2h0M574.1 401.2h0M582.8 401.2h0M591.6 401.2h0M600.4 401.2h0M609.1 401.2h0M617.9 401.2h0M626.7 401.2h0M635.4 401.2h0M644.2 401.2h0M653.0 401.2h0M661.8 401.2h0M670.5 401.2h0M679.3 401.2h0M688.1 401.2h0M696.8 401.2h0M705.6 401.2h0M714.4 401.2h0M723.1 401.2h0M731.9 401.2h0M740.7 401.2h0M749.5 401.2h0M758.2 401.2h0M767.0 401.2h0M775.8 401.2h0M784.5 401.2h0M793.3 401.2h0M802.1 401.2h0M810.8 401.2h0M819.6 401.2h0M828.4 401.2h0M837.2 401.2h0M845.9 401.2h0M854.7 401.2h0M863.5 401.2h0M872.2 401.2h0M179.4 410.0h0M188.2 410.0h0M196.9 410.0h0M205.7 410.0h0M214.5 410.0h0M223.3 410.0h0M232.0 410.0h0M240.8 410.0h0M249.6 410.0h0M258.3 410.0h0M267.1 410.0h0M275.9 410.0h0M284.6 410.0h0M293.4 410.0h0M302.2 410.0h0M311.0 410.0h0M319.7 410.0h0M328.5 410.0h0M337.3 410.0h0M363.6 410.0h0M495.1 410.0h0M503.9 410.0h0M512.7 410.0h0M521.4 410.0h0M530.2 410.0h0M539.0 410.0h0M547.8 410.0h0M556.5 410.0h0M565.3 410.0h0M574.1 410.0h0M582.8 410.0h0M591.6 410.0h0M600.4 410.0h0M609.1 410.0h0M617.9 410.0h0M626.7 410.0h0M635.4 410.0h0M644.2 410.0h0M653.0 410.0h0M661.8 410.0h0M670.5 410.0h0M679.3 410.0h0M688.1 410.0h0M696.8 410.0h0M705.6 410.0h0M714.4 410.0h0M723.1 410.0h0M731.9 410.0h0M740.7 410.0h0M749.5 410.0h0M758.2 410.0h0M767.0 410.0h0M775.8 410.0h0M784.5 410.0h0M793.3 410.0h0M802.1 410.0h0M810.8 410.0h0M819.6 410.0h0M828.4 410.0h0M837.2 410.0h0M845.9 410.0h0M854.7 410.0h0M179.4 418.8h0M188.2 418.8h0M196.9 418.8h0M205.7 418.8h0M214.5 418.8h0M223.3 418.8h0M232.0 418.8h0M240.8 418.8h0M249.6 418.8h0M258.3 418.8h0M267.1 418.8h0M275.9 418.8h0M284.6 418.8h0M293.4 418.8h0M302.2 418.8h0M311.0 418.8h0M328.5 418.8h0M477.6 418.8h0M495.1 418.8h0M503.9 418.8h0M512.7 418.8h0M521.4 418.8h0M530.2 418.8h0M547.8 418.8h0M556.5 418.8h0M565.3 418.8h0M574.1 418.8h0M582.8 418.8h0M591.6 418.8h0M600.4 418.8h0M609.1 418.8h0M617.9 418.8h0M626.7 418.8h0M635.4 418.8h0M644.2 418.8h0M653.0 418.8h0M661.8 418.8h0M670.5 418.8h0M679.3 418.8h0M688.1 418.8h0M696.8 418.8h0M705.6 418.8h0M714.4 418.8h0M723.1 418.8h0M731.9 418.8h0M740.7 418.8h0M749.5 418.8h0M758.2 418.8h0M767.0 418.8h0M775.8 418.8h0M784.5 418.8h0M793.3 418.8h0M802.1 418.8h0M810.8 418.8h0M819.6 418.8h0M828.4 418.8h0M837.2 418.8h0M845.9 418.8h0M872.2 418.8h0M179.4 427.5h0M188.2 427.5h0M196.9 427.5h0M205.7 427.5h0M214.5 427.5h0M223.3 427.5h0M232.0 427.5h0M240.8 427.5h0M249.6 427.5h0M258.3 427.5h0M267.1 427.5h0M275.9 427.5h0M284.6 427.5h0M293.4 427.5h0M302.2 427.5h0M311.0 427.5h0M477.6 427.5h0M486.4 427.5h0M495.1 427.5h0M503.9 427.5h0M530.2 427.5h0M539.0 427.5h0M556.5 427.5h0M565.3 427.5h0M574.1 427.5h0M582.8 427.5h0M591.6 427.5h0M600.4 427.5h0M609.1 427.5h0M617.9 427.5h0M626.7 427.5h0M635.4 427.5h0M644.2 427.5h0M653.0 427.5h0M661.8 427.5h0M670.5 427.5h0M679.3 427.5h0M688.1 427.5h0M696.8 427.5h0M705.6 427.5h0M714.4 427.5h0M723.1 427.5h0M731.9 427.5h0M740.7 427.5h0M749.5 427.5h0M758.2 427.5h0M767.0 427.5h0M775.8 427.5h0M784.5 427.5h0M793.3 427.5h0M802.1 427.5h0M810.8 427.5h0M819.6 427.5h0M828.4 427.5h0M837.2 427.5h0M863.5 427.5h0M179.4 436.3h0M188.2 436.3h0M196.9 436.3h0M205.7 436.3h0M214.5 436.3h0M223.3 436.3h0M232.0 436.3h0M240.8 436.3h0M249.6 436.3h0M258.3 436.3h0M267.1 436.3h0M275.9 436.3h0M284.6 436.3h0M293.4 436.3h0M302.2 436.3h0M477.6 436.3h0M486.4 436.3h0M495.1 436.3h0M539.0 436.3h0M556.5 436.3h0M565.3 436.3h0M574.1 436.3h0M582.8 436.3h0M591.6 436.3h0M600.4 436.3h0M609.1 436.3h0M617.9 436.3h0M626.7 436.3h0M635.4 436.3h0M644.2 436.3h0M653.0 436.3h0M661.8 436.3h0M670.5 436.3h0M679.3 436.3h0M688.1 436.3h0M696.8 436.3h0M705.6 436.3h0M714.4 436.3h0M723.1 436.3h0M731.9 436.3h0M740.7 436.3h0M749.5 436.3h0M758.2 436.3h0M767.0 436.3h0M775.8 436.3h0M784.5 436.3h0M793.3 436.3h0M802.1 436.3h0M828.4 436.3h0M863.5 436.3h0M188.2 445.1h0M196.9 445.1h0M205.7 445.1h0M214.5 445.1h0M223.3 445.1h0M232.0 445.1h0M240.8 445.1h0M249.6 445.1h0M258.3 445.1h0M267.1 445.1h0M275.9 445.1h0M284.6 445.1h0M293.4 445.1h0M486.4 445.1h0M503.9 445.1h0M512.7 445.1h0M521.4 445.1h0M539.0 445.1h0M574.1 445.1h0M582.8 445.1h0M591.6 445.1h0M600.4 445.1h0M609.1 445.1h0M617.9 445.1h0M626.7 445.1h0M635.4 445.1h0M644.2 445.1h0M653.0 445.1h0M661.8 445.1h0M670.5 445.1h0M679.3 445.1h0M688.1 445.1h0M696.8 445.1h0M705.6 445.1h0M714.4 445.1h0M723.1 445.1h0M731.9 445.1h0M740.7 445.1h0M749.5 445.1h0M758.2 445.1h0M767.0 445.1h0M775.8 445.1h0M784.5 445.1h0M793.3 445.1h0M802.1 445.1h0M810.8 445.1h0M828.4 445.1h0M837.2 445.1h0M854.7 445.1h0M863.5 445.1h0M188.2 453.9h0M196.9 453.9h0M205.7 453.9h0M214.5 453.9h0M223.3 453.9h0M232.0 453.9h0M240.8 453.9h0M249.6 453.9h0M258.3 453.9h0M267.1 453.9h0M275.9 453.9h0M284.6 453.9h0M293.4 453.9h0M477.6 453.9h0M486.4 453.9h0M495.1 453.9h0M503.9 453.9h0M512.7 453.9h0M521.4 453.9h0M530.2 453.9h0M591.6 453.9h0M600.4 453.9h0M609.1 453.9h0M617.9 453.9h0M626.7 453.9h0M635.4 453.9h0M644.2 453.9h0M653.0 453.9h0M661.8 453.9h0M670.5 453.9h0M679.3 453.9h0M688.1 453.9h0M696.8 453.9h0M705.6 453.9h0M714.4 453.9h0M723.1 453.9h0M731.9 453.9h0M740.7 453.9h0M749.5 453.9h0M758.2 453.9h0M767.0 453.9h0M775.8 453.9h0M784.5 453.9h0M793.3 453.9h0M802.1 453.9h0M810.8 453.9h0M837.2 453.9h0M845.9 453.9h0M196.9 462.6h0M205.7 462.6h0M214.5 462.6h0M223.3 462.6h0M232.0 462.6h0M240.8 462.6h0M249.6 462.6h0M258.3 462.6h0M267.1 462.6h0M275.9 462.6h0M284.6 462.6h0M477.6 462.6h0M486.4 462.6h0M495.1 462.6h0M503.9 462.6h0M512.7 462.6h0M521.4 462.6h0M530.2 462.6h0M539.0 462.6h0M547.8 462.6h0M556.5 462.6h0M565.3 462.6h0M574.1 462.6h0M582.8 462.6h0M591.6 462.6h0M600.4 462.6h0M609.1 462.6h0M617.9 462.6h0M626.7 462.6h0M635.4 462.6h0M644.2 462.6h0M653.0 462.6h0M661.8 462.6h0M670.5 462.6h0M679.3 462.6h0M688.1 462.6h0M696.8 462.6h0M705.6 462.6h0M714.4 462.6h0M723.1 462.6h0M731.9 462.6h0M740.7 462.6h0M749.5 462.6h0M758.2 462.6h0M767.0 462.6h0M775.8 462.6h0M784.5 462.6h0M793.3 462.6h0M802.1 462.6h0M810.8 462.6h0M196.9 471.4h0M205.7 471.4h0M214.5 471.4h0M223.3 471.4h0M232.0 471.4h0M240.8 471.4h0M284.6 471.4h0M468.8 471.4h0M477.6 471.4h0M486.4 471.4h0M495.1 471.4h0M503.9 471.4h0M512.7 471.4h0M521.4 471.4h0M530.2 471.4h0M539.0 471.4h0M547.8 471.4h0M556.5 471.4h0M565.3 471.4h0M574.1 471.4h0M582.8 471.4h0M591.6 471.4h0M600.4 471.4h0M609.1 471.4h0M617.9 471.4h0M635.4 471.4h0M644.2 471.4h0M653.0 471.4h0M661.8 471.4h0M670.5 471.4h0M679.3 471.4h0M688.1 471.4h0M696.8 471.4h0M705.6 471.4h0M714.4 471.4h0M723.1 471.4h0M731.9 471.4h0M740.7 471.4h0M749.5 471.4h0M758.2 471.4h0M767.0 471.4h0M775.8 471.4h0M784.5 471.4h0M793.3 471.4h0M802.1 471.4h0M810.8 471.4h0M205.7 480.2h0M223.3 480.2h0M232.0 480.2h0M240.8 480.2h0M284.6 480.2h0M460.0 480.2h0M468.8 480.2h0M477.6 480.2h0M486.4 480.2h0M495.1 480.2h0M503.9 480.2h0M512.7 480.2h0M521.4 480.2h0M530.2 480.2h0M539.0 480.2h0M547.8 480.2h0M556.5 480.2h0M565.3 480.2h0M574.1 480.2h0M582.8 480.2h0M600.4 480.2h0M609.1 480.2h0M617.9 480.2h0M626.7 480.2h0M635.4 480.2h0M661.8 480.2h0M670.5 480.2h0M679.3 480.2h0M688.1 480.2h0M696.8 480.2h0M705.6 480.2h0M714.4 480.2h0M723.1 480.2h0M731.9 480.2h0M740.7 480.2h0M749.5 480.2h0M758.2 480.2h0M767.0 480.2h0M775.8 480.2h0M784.5 480.2h0M793.3 480.2h0M802.1 480.2h0M810.8 480.2h0M223.3 488.9h0M232.0 488.9h0M240.8 488.9h0M267.1 488.9h0M284.6 488.9h0M293.4 488.9h0M302.2 488.9h0M460.0 488.9h0M468.8 488.9h0M477.6 488.9h0M486.4 488.9h0M495.1 488.9h0M503.9 488.9h0M512.7 488.9h0M521.4 488.9h0M530.2 488.9h0M539.0 488.9h0M547.8 488.9h0M556.5 488.9h0M565.3 488.9h0M574.1 488.9h0M582.8 488.9h0M591.6 488.9h0M609.1 488.9h0M617.9 488.9h0M626.7 488.9h0M635.4 488.9h0M644.2 488.9h0M653.0 488.9h0M679.3 488.9h0M688.1 488.9h0M696.8 488.9h0M705.6 488.9h0M714.4 488.9h0M723.1 488.9h0M740.7 488.9h0M749.5 488.9h0M758.2 488.9h0M767.0 488.9h0M775.8 488.9h0M784.5 488.9h0M793.3 488.9h0M232.0 497.7h0M240.8 497.7h0M249.6 497.7h0M258.3 497.7h0M267.1 497.7h0M311.0 497.7h0M319.7 497.7h0M460.0 497.7h0M468.8 497.7h0M477.6 497.7h0M486.4 497.7h0M495.1 497.7h0M503.9 497.7h0M512.7 497.7h0M521.4 497.7h0M530.2 497.7h0M539.0 497.7h0M547.8 497.7h0M556.5 497.7h0M565.3 497.7h0M574.1 497.7h0M582.8 497.7h0M591.6 497.7h0M609.1 497.7h0M617.9 497.7h0M626.7 497.7h0M635.4 497.7h0M644.2 497.7h0M688.1 497.7h0M696.8 497.7h0M705.6 497.7h0M714.4 497.7h0M749.5 497.7h0M758.2 497.7h0M767.0 497.7h0M810.8 497.7h0M249.6 506.5h0M258.3 506.5h0M267.1 506.5h0M275.9 506.5h0M460.0 506.5h0M468.8 506.5h0M477.6 506.5h0M486.4 506.5h0M495.1 506.5h0M503.9 506.5h0M512.7 506.5h0M521.4 506.5h0M530.2 506.5h0M539.0 506.5h0M547.8 506.5h0M556.5 506.5h0M565.3 506.5h0M574.1 506.5h0M582.8 506.5h0M591.6 506.5h0M600.4 506.5h0M617.9 506.5h0M626.7 506.5h0M696.8 506.5h0M705.6 506.5h0M749.5 506.5h0M758.2 506.5h0M767.0 506.5h0M775.8 506.5h0M810.8 506.5h0M275.9 515.2h0M311.0 515.2h0M460.0 515.2h0M468.8 515.2h0M477.6 515.2h0M486.4 515.2h0M495.1 515.2h0M503.9 515.2h0M512.7 515.2h0M521.4 515.2h0M530.2 515.2h0M539.0 515.2h0M547.8 515.2h0M556.5 515.2h0M565.3 515.2h0M574.1 515.2h0M582.8 515.2h0M591.6 515.2h0M600.4 515.2h0M609.1 515.2h0M696.8 515.2h0M705.6 515.2h0M758.2 515.2h0M767.0 515.2h0M775.8 515.2h0M819.6 515.2h0M275.9 524.0h0M284.6 524.0h0M293.4 524.0h0M302.2 524.0h0M311.0 524.0h0M319.7 524.0h0M328.5 524.0h0M337.3 524.0h0M346.0 524.0h0M354.8 524.0h0M363.6 524.0h0M372.4 524.0h0M468.8 524.0h0M477.6 524.0h0M486.4 524.0h0M495.1 524.0h0M503.9 524.0h0M512.7 524.0h0M521.4 524.0h0M530.2 524.0h0M539.0 524.0h0M547.8 524.0h0M556.5 524.0h0M565.3 524.0h0M574.1 524.0h0M582.8 524.0h0M591.6 524.0h0M600.4 524.0h0M609.1 524.0h0M617.9 524.0h0M626.7 524.0h0M696.8 524.0h0M705.6 524.0h0M775.8 524.0h0M828.4 524.0h0M302.2 532.8h0M311.0 532.8h0M319.7 532.8h0M328.5 532.8h0M337.3 532.8h0M346.0 532.8h0M354.8 532.8h0M363.6 532.8h0M372.4 532.8h0M477.6 532.8h0M486.4 532.8h0M495.1 532.8h0M512.7 532.8h0M521.4 532.8h0M530.2 532.8h0M539.0 532.8h0M547.8 532.8h0M556.5 532.8h0M565.3 532.8h0M574.1 532.8h0M582.8 532.8h0M591.6 532.8h0M600.4 532.8h0M609.1 532.8h0M617.9 532.8h0M705.6 532.8h0M758.2 532.8h0M802.1 532.8h0M819.6 532.8h0M828.4 532.8h0M293.4 541.6h0M302.2 541.6h0M311.0 541.6h0M319.7 541.6h0M328.5 541.6h0M337.3 541.6h0M346.0 541.6h0M354.8 541.6h0M363.6 541.6h0M372.4 541.6h0M381.1 541.6h0M521.4 541.6h0M530.2 541.6h0M539.0 541.6h0M547.8 541.6h0M556.5 541.6h0M565.3 541.6h0M574.1 541.6h0M582.8 541.6h0M591.6 541.6h0M600.4 541.6h0M609.1 541.6h0M617.9 541.6h0M758.2 541.6h0M767.0 541.6h0M784.5 541.6h0M793.3 541.6h0M802.1 541.6h0M293.4 550.3h0M302.2 550.3h0M311.0 550.3h0M319.7 550.3h0M328.5 550.3h0M337.3 550.3h0M346.0 550.3h0M354.8 550.3h0M363.6 550.3h0M372.4 550.3h0M381.1 550.3h0M521.4 550.3h0M530.2 550.3h0M539.0 550.3h0M547.8 550.3h0M556.5 550.3h0M565.3 550.3h0M574.1 550.3h0M582.8 550.3h0M591.6 550.3h0M600.4 550.3h0M609.1 550.3h0M767.0 550.3h0M784.5 550.3h0M793.3 550.3h0M802.1 550.3h0M837.2 550.3h0M284.6 559.1h0M293.4 559.1h0M302.2 559.1h0M311.0 559.1h0M319.7 559.1h0M328.5 559.1h0M337.3 559.1h0M346.0 559.1h0M354.8 559.1h0M363.6 559.1h0M372.4 559.1h0M381.1 559.1h0M389.9 559.1h0M398.7 559.1h0M530.2 559.1h0M539.0 559.1h0M547.8 559.1h0M556.5 559.1h0M565.3 559.1h0M574.1 559.1h0M582.8 559.1h0M591.6 559.1h0M600.4 559.1h0M767.0 559.1h0M775.8 559.1h0M810.8 559.1h0M819.6 559.1h0M872.2 559.1h0M881.0 559.1h0M889.8 559.1h0M293.4 567.9h0M302.2 567.9h0M311.0 567.9h0M319.7 567.9h0M328.5 567.9h0M337.3 567.9h0M346.0 567.9h0M354.8 567.9h0M363.6 567.9h0M372.4 567.9h0M381.1 567.9h0M389.9 567.9h0M398.7 567.9h0M407.4 567.9h0M539.0 567.9h0M547.8 567.9h0M556.5 567.9h0M565.3 567.9h0M574.1 567.9h0M582.8 567.9h0M591.6 567.9h0M600.4 567.9h0M784.5 567.9h0M802.1 567.9h0M819.6 567.9h0M872.2 567.9h0M881.0 567.9h0M293.4 576.6h0M302.2 576.6h0M311.0 576.6h0M319.7 576.6h0M328.5 576.6h0M337.3 576.6h0M346.0 576.6h0M354.8 576.6h0M363.6 576.6h0M372.4 576.6h0M381.1 576.6h0M389.9 576.6h0M398.7 576.6h0M539.0 576.6h0M547.8 576.6h0M556.5 576.6h0M565.3 576.6h0M574.1 576.6h0M582.8 576.6h0M591.6 576.6h0M600.4 576.6h0M845.9 576.6h0M872.2 576.6h0M302.2 585.4h0M311.0 585.4h0M319.7 585.4h0M328.5 585.4h0M337.3 585.4h0M346.0 585.4h0M354.8 585.4h0M363.6 585.4h0M372.4 585.4h0M381.1 585.4h0M389.9 585.4h0M530.2 585.4h0M539.0 585.4h0M547.8 585.4h0M556.5 585.4h0M565.3 585.4h0M574.1 585.4h0M582.8 585.4h0M591.6 585.4h0M600.4 585.4h0M626.7 585.4h0M828.4 585.4h0M837.2 585.4h0M845.9 585.4h0M854.7 585.4h0M872.2 585.4h0M319.7 594.2h0M328.5 594.2h0M337.3 594.2h0M346.0 594.2h0M354.8 594.2h0M363.6 594.2h0M372.4 594.2h0M381.1 594.2h0M389.9 594.2h0M530.2 594.2h0M539.0 594.2h0M547.8 594.2h0M556.5 594.2h0M565.3 594.2h0M574.1 594.2h0M582.8 594.2h0M591.6 594.2h0M617.9 594.2h0M626.7 594.2h0M819.6 594.2h0M828.4 594.2h0M837.2 594.2h0M845.9 594.2h0M854.7 594.2h0M863.5 594.2h0M872.2 594.2h0M881.0 594.2h0M319.7 602.9h0M328.5 602.9h0M337.3 602.9h0M346.0 602.9h0M354.8 602.9h0M363.6 602.9h0M372.4 602.9h0M381.1 602.9h0M389.9 602.9h0M539.0 602.9h0M547.8 602.9h0M556.5 602.9h0M565.3 602.9h0M574.1 602.9h0M582.8 602.9h0M617.9 602.9h0M802.1 602.9h0M810.8 602.9h0M819.6 602.9h0M828.4 602.9h0M837.2 602.9h0M845.9 602.9h0M854.7 602.9h0M863.5 602.9h0M872.2 602.9h0M881.0 602.9h0M319.7 611.7h0M328.5 611.7h0M337.3 611.7h0M346.0 611.7h0M354.8 611.7h0M363.6 611.7h0M372.4 611.7h0M539.0 611.7h0M547.8 611.7h0M556.5 611.7h0M565.3 611.7h0M574.1 611.7h0M582.8 611.7h0M617.9 611.7h0M793.3 611.7h0M802.1 611.7h0M810.8 611.7h0M819.6 611.7h0M828.4 611.7h0M837.2 611.7h0M845.9 611.7h0M854.7 611.7h0M863.5 611.7h0M872.2 611.7h0M881.0 611.7h0M889.8 611.7h0M319.7 620.5h0M328.5 620.5h0M337.3 620.5h0M346.0 620.5h0M354.8 620.5h0M363.6 620.5h0M539.0 620.5h0M547.8 620.5h0M556.5 620.5h0M565.3 620.5h0M574.1 620.5h0M802.1 620.5h0M810.8 620.5h0M819.6 620.5h0M828.4 620.5h0M837.2 620.5h0M845.9 620.5h0M854.7 620.5h0M863.5 620.5h0M872.2 620.5h0M881.0 620.5h0M889.8 620.5h0M898.5 620.5h0M311.0 629.3h0M319.7 629.3h0M328.5 629.3h0M337.3 629.3h0M346.0 629.3h0M354.8 629.3h0M363.6 629.3h0M547.8 629.3h0M556.5 629.3h0M565.3 629.3h0M574.1 629.3h0M802.1 629.3h0M810.8 629.3h0M819.6 629.3h0M828.4 629.3h0M837.2 629.3h0M845.9 629.3h0M854.7 629.3h0M863.5 629.3h0M872.2 629.3h0M881.0 629.3h0M889.8 629.3h0M898.5 629.3h0M311.0 638.0h0M319.7 638.0h0M328.5 638.0h0M337.3 638.0h0M346.0 638.0h0M354.8 638.0h0M547.8 638.0h0M556.5 638.0h0M565.3 638.0h0M802.1 638.0h0M810.8 638.0h0M819.6 638.0h0M845.9 638.0h0M854.7 638.0h0M863.5 638.0h0M872.2 638.0h0M881.0 638.0h0M889.8 638.0h0M311.0 646.8h0M319.7 646.8h0M328.5 646.8h0M337.3 646.8h0M346.0 646.8h0M354.8 646.8h0M863.5 646.8h0M872.2 646.8h0M881.0 646.8h0M889.8 646.8h0M311.0 655.6h0M319.7 655.6h0M328.5 655.6h0M337.3 655.6h0M346.0 655.6h0M872.2 655.6h0M881.0 655.6h0M311.0 664.3h0M319.7 664.3h0M328.5 664.3h0M872.2 664.3h0M881.0 664.3h0M311.0 673.1h0M319.7 673.1h0M328.5 673.1h0M881.0 673.1h0M311.0 681.9h0M319.7 681.9h0M302.2 690.6h0M311.0 690.6h0M319.7 690.6h0M311.0 699.4h0M319.7 699.4h0" fill="none" stroke="#c862b6" stroke-width="6.4" stroke-linecap="round"/>
<path d="M959.9 296.0h0M968.7 296.0h0M959.9 304.8h0M968.7 304.8h0M977.5 304.8h0M959.9 313.5h0M968.7 313.5h0M977.5 313.5h0M986.2 313.5h0M951.2 322.3h0M959.9 322.3h0M977.5 322.3h0M986.2 322.3h0M951.2 331.1h0M959.9 331.1h0M951.2 339.9h0M959.9 339.9h0M951.2 646.8h0M951.2 655.6h0M959.9 655.6h0M951.2 664.3h0M959.9 664.3h0M942.4 673.1h0M951.2 673.1h0M933.6 681.9h0M942.4 681.9h0M933.6 690.6h0" fill="none" stroke="#d68bd0" stroke-width="6.4" stroke-linecap="round"/>
  <polygon points="194.5,319.5 198.5,319.5 197.8,351 196.5,358.5 195.2,351" fill="#ec2a4b"/>
<circle cx="196.5" cy="305.0" r="16.5" fill="#ec2a4b"/>
<ellipse cx="196.5" cy="297.4" rx="6.6" ry="4.5" fill="#ffffff"/>
<polygon points="264.2,381.3 268.2,381.3 267.5,413 266.2,420.5 264.9,413" fill="#6f2694"/>
<circle cx="266.2" cy="366.8" r="16.5" fill="#6f2694"/>
<ellipse cx="266.2" cy="359.2" rx="6.6" ry="4.5" fill="#ffffff"/>
<polygon points="370.1,539.5 374.1,539.5 373.4,570 372.1,577.5 370.8,570" fill="#f8e83c"/>
<circle cx="372.1" cy="525.0" r="16.5" fill="#f8e83c"/>
<ellipse cx="372.1" cy="517.4" rx="6.6" ry="4.5" fill="#ffffff"/>
<polygon points="484.2,330.3 488.2,330.3 487.5,361 486.2,368.5 484.9,361" fill="#982a42"/>
<circle cx="486.2" cy="315.8" r="16.5" fill="#982a42"/>
<ellipse cx="486.2" cy="308.2" rx="6.6" ry="4.5" fill="#ffffff"/>
<polygon points="554.2,293.7 558.2,293.7 557.5,325 556.2,332.5 554.9,325" fill="#fcef8c"/>
<circle cx="556.2" cy="279.2" r="16.5" fill="#fcef8c"/>
<ellipse cx="556.2" cy="271.6" rx="6.6" ry="4.5" fill="#ffffff"/>
<polygon points="527.5,364.0 531.5,364.0 530.8,395 529.5,402.5 528.2,395" fill="#2fba94"/>
<circle cx="529.5" cy="349.5" r="16.5" fill="#2fba94"/>
<ellipse cx="529.5" cy="341.9" rx="6.6" ry="4.5" fill="#ffffff"/>
<polygon points="589.2,337.3 593.2,337.3 592.5,368 591.2,375.5 589.9,368" fill="#2b2142"/>
<circle cx="591.2" cy="322.8" r="16.5" fill="#2b2142"/>
<ellipse cx="591.2" cy="315.2" rx="6.6" ry="4.5" fill="#ffffff"/>
<polygon points="633.5,374.5 637.5,374.5 636.8,403 635.5,410.5 634.2,403" fill="#8f8272"/>
<circle cx="635.5" cy="360.0" r="16.5" fill="#8f8272"/>
<ellipse cx="635.5" cy="352.4" rx="6.6" ry="4.5" fill="#ffffff"/>
<polygon points="701.8,442.6 705.8,442.6 705.1,475 703.8,482.5 702.5,475" fill="#f0954f"/>
<circle cx="703.8" cy="428.1" r="16.5" fill="#f0954f"/>
<ellipse cx="703.8" cy="420.5" rx="6.6" ry="4.5" fill="#ffffff"/>
<polygon points="852.1,573.6 856.1,573.6 855.4,603 854.1,610.5 852.8,603" fill="#b05c64"/>
<circle cx="854.1" cy="559.1" r="16.5" fill="#b05c64"/>
<ellipse cx="854.1" cy="551.5" rx="6.6" ry="4.5" fill="#ffffff"/>
  <rect x="0" y="0" width="186" height="51" fill="url(#tabg)"/>
  <rect x="82" y="704" width="907" height="211" rx="7" fill="#f4efed"/>
  <rect x="104" y="752.6" width="866" height="1.3" fill="#2a2242"/>
  <path d="M47 942H60V963H80V976H47Z" fill="#f0eef5"/>
  <g fill="#efedf5" stroke="#efedf5" stroke-width="0.8" stroke-linejoin="round"><polygon points="1436.1,778.8 1460.9,754.2 1466.9,760.4 1450.0,778.8 1466.9,797.2 1460.9,803.4"/>
<polygon points="1463.9,778.8 1488.7,754.2 1494.7,760.4 1477.8,778.8 1494.7,797.2 1488.7,803.4"/>
<polygon points="1491.2,778.8 1516.0,754.2 1522.0,760.4 1505.1,778.8 1522.0,797.2 1516.0,803.4"/>
<polygon points="1518.3,778.8 1543.1,754.2 1549.1,760.4 1532.2,778.8 1549.1,797.2 1543.1,803.4"/>
<polygon points="1545.4,778.8 1570.2,754.2 1576.2,760.4 1559.3,778.8 1576.2,797.2 1570.2,803.4"/>
<polygon points="1569.6,778.8 1594.4,754.2 1600.4,760.4 1583.5,778.8 1600.4,797.2 1594.4,803.4"/>
<polygon points="1596.6,778.8 1621.4,754.2 1627.4,760.4 1610.5,778.8 1627.4,797.2 1621.4,803.4"/>
<polygon points="1623.6,778.8 1648.4,754.2 1654.4,760.4 1637.5,778.8 1654.4,797.2 1648.4,803.4"/>
<polygon points="1650.6,778.8 1675.4,754.2 1681.4,760.4 1664.5,778.8 1681.4,797.2 1675.4,803.4"/>
<polygon points="1677.5,778.8 1702.3,754.2 1708.3,760.4 1691.4,778.8 1708.3,797.2 1702.3,803.4"/></g>
  <path d="M240.65 792h2.1v2.1h-2.1zM244.89 792h2.1v2.1h-2.1zM249.14 792h2.1v2.1h-2.1zM253.38 792h2.1v2.1h-2.1zM257.62 792h2.1v2.1h-2.1zM261.87 792h2.1v2.1h-2.1zM266.11 792h2.1v2.1h-2.1zM270.36 792h2.1v2.1h-2.1zM274.60 792h2.1v2.1h-2.1zM278.84 792h2.1v2.1h-2.1zM283.09 792h2.1v2.1h-2.1zM287.33 792h2.1v2.1h-2.1zM291.57 792h2.1v2.1h-2.1zM295.82 792h2.1v2.1h-2.1zM300.06 792h2.1v2.1h-2.1zM304.31 792h2.1v2.1h-2.1zM308.55 792h2.1v2.1h-2.1zM274.95 823h2.1v2.1h-2.1zM279.18 823h2.1v2.1h-2.1zM283.40 823h2.1v2.1h-2.1zM287.63 823h2.1v2.1h-2.1zM291.86 823h2.1v2.1h-2.1zM296.09 823h2.1v2.1h-2.1zM300.31 823h2.1v2.1h-2.1zM304.54 823h2.1v2.1h-2.1zM308.77 823h2.1v2.1h-2.1zM313.00 823h2.1v2.1h-2.1zM317.22 823h2.1v2.1h-2.1zM321.45 823h2.1v2.1h-2.1zM185.95 854h2.1v2.1h-2.1zM190.17 854h2.1v2.1h-2.1zM194.40 854h2.1v2.1h-2.1zM198.62 854h2.1v2.1h-2.1zM202.85 854h2.1v2.1h-2.1zM207.07 854h2.1v2.1h-2.1zM211.30 854h2.1v2.1h-2.1zM215.52 854h2.1v2.1h-2.1zM219.75 854h2.1v2.1h-2.1zM223.97 854h2.1v2.1h-2.1zM228.20 854h2.1v2.1h-2.1zM232.42 854h2.1v2.1h-2.1zM236.65 854h2.1v2.1h-2.1zM240.88 854h2.1v2.1h-2.1zM245.10 854h2.1v2.1h-2.1zM249.32 854h2.1v2.1h-2.1zM253.55 854h2.1v2.1h-2.1zM257.77 854h2.1v2.1h-2.1zM262.00 854h2.1v2.1h-2.1zM266.22 854h2.1v2.1h-2.1zM270.45 854h2.1v2.1h-2.1zM274.68 854h2.1v2.1h-2.1zM278.90 854h2.1v2.1h-2.1zM283.12 854h2.1v2.1h-2.1zM287.35 854h2.1v2.1h-2.1zM291.57 854h2.1v2.1h-2.1zM295.80 854h2.1v2.1h-2.1zM300.02 854h2.1v2.1h-2.1zM304.25 854h2.1v2.1h-2.1zM308.47 854h2.1v2.1h-2.1zM312.70 854h2.1v2.1h-2.1zM316.93 854h2.1v2.1h-2.1zM321.15 854h2.1v2.1h-2.1zM194.45 885h2.1v2.1h-2.1zM198.70 885h2.1v2.1h-2.1zM202.95 885h2.1v2.1h-2.1zM207.20 885h2.1v2.1h-2.1zM211.46 885h2.1v2.1h-2.1zM215.71 885h2.1v2.1h-2.1zM219.96 885h2.1v2.1h-2.1zM224.21 885h2.1v2.1h-2.1zM228.46 885h2.1v2.1h-2.1zM232.71 885h2.1v2.1h-2.1zM236.97 885h2.1v2.1h-2.1zM241.22 885h2.1v2.1h-2.1zM245.47 885h2.1v2.1h-2.1zM249.72 885h2.1v2.1h-2.1zM253.97 885h2.1v2.1h-2.1zM258.22 885h2.1v2.1h-2.1zM262.48 885h2.1v2.1h-2.1zM266.73 885h2.1v2.1h-2.1zM270.98 885h2.1v2.1h-2.1zM275.23 885h2.1v2.1h-2.1zM279.48 885h2.1v2.1h-2.1zM283.73 885h2.1v2.1h-2.1zM287.99 885h2.1v2.1h-2.1zM292.24 885h2.1v2.1h-2.1zM296.49 885h2.1v2.1h-2.1zM300.74 885h2.1v2.1h-2.1zM304.99 885h2.1v2.1h-2.1zM309.24 885h2.1v2.1h-2.1zM313.50 885h2.1v2.1h-2.1zM317.75 885h2.1v2.1h-2.1zM322.00 885h2.1v2.1h-2.1zM326.25 885h2.1v2.1h-2.1zM473.25 792h2.1v2.1h-2.1zM477.50 792h2.1v2.1h-2.1zM481.74 792h2.1v2.1h-2.1zM485.99 792h2.1v2.1h-2.1zM490.23 792h2.1v2.1h-2.1zM494.48 792h2.1v2.1h-2.1zM498.72 792h2.1v2.1h-2.1zM502.97 792h2.1v2.1h-2.1zM507.21 792h2.1v2.1h-2.1zM511.46 792h2.1v2.1h-2.1zM515.70 792h2.1v2.1h-2.1zM519.95 792h2.1v2.1h-2.1zM524.19 792h2.1v2.1h-2.1zM528.44 792h2.1v2.1h-2.1zM532.68 792h2.1v2.1h-2.1zM536.93 792h2.1v2.1h-2.1zM541.17 792h2.1v2.1h-2.1zM545.42 792h2.1v2.1h-2.1zM549.66 792h2.1v2.1h-2.1zM553.91 792h2.1v2.1h-2.1zM558.15 792h2.1v2.1h-2.1zM562.40 792h2.1v2.1h-2.1zM566.64 792h2.1v2.1h-2.1zM570.89 792h2.1v2.1h-2.1zM575.13 792h2.1v2.1h-2.1zM579.38 792h2.1v2.1h-2.1zM583.62 792h2.1v2.1h-2.1zM587.87 792h2.1v2.1h-2.1zM592.11 792h2.1v2.1h-2.1zM596.36 792h2.1v2.1h-2.1zM600.60 792h2.1v2.1h-2.1zM604.85 792h2.1v2.1h-2.1zM456.85 823h2.1v2.1h-2.1zM461.08 823h2.1v2.1h-2.1zM465.31 823h2.1v2.1h-2.1zM469.54 823h2.1v2.1h-2.1zM473.76 823h2.1v2.1h-2.1zM477.99 823h2.1v2.1h-2.1zM482.22 823h2.1v2.1h-2.1zM486.45 823h2.1v2.1h-2.1zM490.68 823h2.1v2.1h-2.1zM494.91 823h2.1v2.1h-2.1zM499.14 823h2.1v2.1h-2.1zM503.36 823h2.1v2.1h-2.1zM507.59 823h2.1v2.1h-2.1zM511.82 823h2.1v2.1h-2.1zM516.05 823h2.1v2.1h-2.1zM520.28 823h2.1v2.1h-2.1zM524.51 823h2.1v2.1h-2.1zM528.74 823h2.1v2.1h-2.1zM532.96 823h2.1v2.1h-2.1zM537.19 823h2.1v2.1h-2.1zM541.42 823h2.1v2.1h-2.1zM545.65 823h2.1v2.1h-2.1zM549.88 823h2.1v2.1h-2.1zM554.11 823h2.1v2.1h-2.1zM558.34 823h2.1v2.1h-2.1zM562.56 823h2.1v2.1h-2.1zM566.79 823h2.1v2.1h-2.1zM571.02 823h2.1v2.1h-2.1zM575.25 823h2.1v2.1h-2.1zM579.48 823h2.1v2.1h-2.1zM583.71 823h2.1v2.1h-2.1zM587.94 823h2.1v2.1h-2.1zM592.16 823h2.1v2.1h-2.1zM596.39 823h2.1v2.1h-2.1zM600.62 823h2.1v2.1h-2.1zM604.85 823h2.1v2.1h-2.1zM481.75 854h2.1v2.1h-2.1zM485.99 854h2.1v2.1h-2.1zM490.24 854h2.1v2.1h-2.1zM494.48 854h2.1v2.1h-2.1zM498.73 854h2.1v2.1h-2.1zM502.97 854h2.1v2.1h-2.1zM507.22 854h2.1v2.1h-2.1zM511.46 854h2.1v2.1h-2.1zM515.71 854h2.1v2.1h-2.1zM519.95 854h2.1v2.1h-2.1zM524.20 854h2.1v2.1h-2.1zM528.44 854h2.1v2.1h-2.1zM532.69 854h2.1v2.1h-2.1zM536.93 854h2.1v2.1h-2.1zM541.18 854h2.1v2.1h-2.1zM545.42 854h2.1v2.1h-2.1zM549.67 854h2.1v2.1h-2.1zM553.91 854h2.1v2.1h-2.1zM558.16 854h2.1v2.1h-2.1zM562.40 854h2.1v2.1h-2.1zM566.65 854h2.1v2.1h-2.1zM570.89 854h2.1v2.1h-2.1zM575.14 854h2.1v2.1h-2.1zM579.38 854h2.1v2.1h-2.1zM583.63 854h2.1v2.1h-2.1zM587.87 854h2.1v2.1h-2.1zM592.12 854h2.1v2.1h-2.1zM596.36 854h2.1v2.1h-2.1zM600.61 854h2.1v2.1h-2.1zM604.85 854h2.1v2.1h-2.1zM769.05 792h2.1v2.1h-2.1zM773.30 792h2.1v2.1h-2.1zM777.56 792h2.1v2.1h-2.1zM781.81 792h2.1v2.1h-2.1zM786.07 792h2.1v2.1h-2.1zM790.32 792h2.1v2.1h-2.1zM794.58 792h2.1v2.1h-2.1zM798.83 792h2.1v2.1h-2.1zM803.09 792h2.1v2.1h-2.1zM807.34 792h2.1v2.1h-2.1zM811.60 792h2.1v2.1h-2.1zM815.85 792h2.1v2.1h-2.1zM820.11 792h2.1v2.1h-2.1zM824.36 792h2.1v2.1h-2.1zM828.62 792h2.1v2.1h-2.1zM832.87 792h2.1v2.1h-2.1zM837.13 792h2.1v2.1h-2.1zM841.38 792h2.1v2.1h-2.1zM845.64 792h2.1v2.1h-2.1zM849.89 792h2.1v2.1h-2.1zM854.15 792h2.1v2.1h-2.1zM858.40 792h2.1v2.1h-2.1zM862.66 792h2.1v2.1h-2.1zM866.91 792h2.1v2.1h-2.1zM871.17 792h2.1v2.1h-2.1zM875.42 792h2.1v2.1h-2.1zM879.68 792h2.1v2.1h-2.1zM883.93 792h2.1v2.1h-2.1zM888.19 792h2.1v2.1h-2.1zM892.44 792h2.1v2.1h-2.1zM896.70 792h2.1v2.1h-2.1zM900.95 792h2.1v2.1h-2.1zM790.45 823h2.1v2.1h-2.1zM794.70 823h2.1v2.1h-2.1zM798.95 823h2.1v2.1h-2.1zM803.20 823h2.1v2.1h-2.1zM807.45 823h2.1v2.1h-2.1zM811.70 823h2.1v2.1h-2.1zM815.95 823h2.1v2.1h-2.1zM820.20 823h2.1v2.1h-2.1zM824.45 823h2.1v2.1h-2.1zM828.70 823h2.1v2.1h-2.1zM832.95 823h2.1v2.1h-2.1zM837.20 823h2.1v2.1h-2.1zM841.45 823h2.1v2.1h-2.1zM845.70 823h2.1v2.1h-2.1zM849.95 823h2.1v2.1h-2.1zM854.20 823h2.1v2.1h-2.1zM858.45 823h2.1v2.1h-2.1zM862.70 823h2.1v2.1h-2.1zM866.95 823h2.1v2.1h-2.1zM871.20 823h2.1v2.1h-2.1zM875.45 823h2.1v2.1h-2.1zM879.70 823h2.1v2.1h-2.1zM883.95 823h2.1v2.1h-2.1zM888.20 823h2.1v2.1h-2.1zM892.45 823h2.1v2.1h-2.1zM896.70 823h2.1v2.1h-2.1zM900.95 823h2.1v2.1h-2.1zM748.15 854h2.1v2.1h-2.1zM752.39 854h2.1v2.1h-2.1zM756.64 854h2.1v2.1h-2.1zM760.88 854h2.1v2.1h-2.1zM765.13 854h2.1v2.1h-2.1zM769.37 854h2.1v2.1h-2.1zM773.62 854h2.1v2.1h-2.1zM777.86 854h2.1v2.1h-2.1zM782.11 854h2.1v2.1h-2.1zM786.35 854h2.1v2.1h-2.1zM790.59 854h2.1v2.1h-2.1zM794.84 854h2.1v2.1h-2.1zM799.08 854h2.1v2.1h-2.1zM803.33 854h2.1v2.1h-2.1zM807.57 854h2.1v2.1h-2.1zM811.82 854h2.1v2.1h-2.1zM816.06 854h2.1v2.1h-2.1zM820.31 854h2.1v2.1h-2.1zM824.55 854h2.1v2.1h-2.1zM828.79 854h2.1v2.1h-2.1zM833.04 854h2.1v2.1h-2.1zM837.28 854h2.1v2.1h-2.1zM841.53 854h2.1v2.1h-2.1zM845.77 854h2.1v2.1h-2.1zM850.02 854h2.1v2.1h-2.1zM854.26 854h2.1v2.1h-2.1zM858.51 854h2.1v2.1h-2.1zM862.75 854h2.1v2.1h-2.1zM866.99 854h2.1v2.1h-2.1zM871.24 854h2.1v2.1h-2.1zM875.48 854h2.1v2.1h-2.1zM879.73 854h2.1v2.1h-2.1zM883.97 854h2.1v2.1h-2.1zM888.22 854h2.1v2.1h-2.1zM892.46 854h2.1v2.1h-2.1zM896.71 854h2.1v2.1h-2.1zM900.95 854h2.1v2.1h-2.1z" fill="#2a2430"/>
  <text x="1025.8" y="170.8" font-size="54.5" font-weight="bold" fill="#fdf6f4" textLength="288.7" lengthAdjust="spacingAndGlyphs">The Global</text>
<text x="1024.4" y="225.3" font-size="54.5" font-weight="bold" fill="#fdf6f4" textLength="544.5" lengthAdjust="spacingAndGlyphs">Game Development</text>
<text x="1024.4" y="279.8" font-size="54.5" font-weight="bold" fill="#fdf6f4" textLength="322.7" lengthAdjust="spacingAndGlyphs">Community</text>
<text x="1026.6" y="349.1" font-size="26" font-weight="bold" fill="#fdf6f4" textLength="407" lengthAdjust="spacingAndGlyphs">This year’s State of the Game</text>
<text x="1026.6" y="378.6" font-size="26" font-weight="bold" fill="#fdf6f4" textLength="502.5" lengthAdjust="spacingAndGlyphs">Industry report includes developers</text>
<text x="1026.6" y="408.1" font-size="26" font-weight="bold" fill="#fdf6f4" textLength="481.7" lengthAdjust="spacingAndGlyphs">from 86 countries, spread out over</text>
<text x="1026.6" y="437.6" font-size="26" font-weight="bold" fill="#fdf6f4" textLength="204.2" lengthAdjust="spacingAndGlyphs">six continents.</text>
<text x="1026.2" y="479.6" font-size="20.8" font-weight="normal" fill="#fbeef0" textLength="520.7" lengthAdjust="spacingAndGlyphs">The United States has the largest concentration of</text>
<text x="1026.2" y="504.6" font-size="20.8" font-weight="normal" fill="#fbeef0" textLength="544.4" lengthAdjust="spacingAndGlyphs">respondents, along with European countries like the</text>
<text x="1026.2" y="529.6" font-size="20.8" font-weight="normal" fill="#fbeef0" textLength="515" lengthAdjust="spacingAndGlyphs">UK, France, and Germany. Other countries of note</text>
<text x="1026.2" y="554.6" font-size="20.8" font-weight="normal" fill="#fbeef0" textLength="498.7" lengthAdjust="spacingAndGlyphs">include Canada, Brazil, India, China, and Mexico.</text>
<text x="1026.2" y="594.4" font-size="20.8" font-weight="normal" fill="#fbeef0" textLength="516.6" lengthAdjust="spacingAndGlyphs">The Game Developers Conference is in the United</text>
<text x="1026.2" y="619.4" font-size="20.8" font-weight="normal" fill="#fbeef0" textLength="579.9" lengthAdjust="spacingAndGlyphs">States—as are many attendees, who tend to be the bulk</text>
<text x="1026.2" y="644.4" font-size="20.8" font-weight="normal" fill="#fbeef0" textLength="553.8" lengthAdjust="spacingAndGlyphs">of respondents to our annual survey. Some responses</text>
<text x="1026.2" y="669.4" font-size="20.8" font-weight="normal" fill="#fbeef0" textLength="557.4" lengthAdjust="spacingAndGlyphs">in this survey may overly represent the experiences of</text>
<text x="1026.2" y="694.4" font-size="20.8" font-weight="normal" fill="#fbeef0" textLength="563.1" lengthAdjust="spacingAndGlyphs">developers in the West and may not always reflect the</text>
<text x="1026.2" y="719.4" font-size="20.8" font-weight="normal" fill="#fbeef0" textLength="411.9" lengthAdjust="spacingAndGlyphs">views of the global community at large.</text>
<text x="1373" y="961.8" font-size="9.6" font-weight="normal" fill="#f8dfe4" textLength="233.5" lengthAdjust="spacingAndGlyphs">GDC 2025 STATE OF THE GAME INDUSTRY</text>
<rect x="1613.6" y="954.4" width="1" height="9" fill="#f8dfe4"/>
<text x="1621.9" y="962.0" font-size="10.4" font-weight="bold" fill="#ffffff" stroke="#ffffff" stroke-width="0.3">4</text>
<text x="59.6" y="34.7" font-size="15.7" font-weight="normal" fill="#f7ebf7" textLength="111.8" lengthAdjust="spacing">COMMUNITY</text>
<text x="103.6" y="746.5" font-size="24.5" font-weight="bold" fill="#2a2242" textLength="545.8" lengthAdjust="spacingAndGlyphs">COUNTRIES WITH THE MOST RESPONDENTS</text>
<text x="103.2" y="793.8" font-size="20.2" font-weight="normal" fill="#201b24" textLength="137.2" lengthAdjust="spacingAndGlyphs">United States</text>
<text x="315.4" y="793.8" font-size="20.2" font-weight="bold" fill="#6f2a96" textLength="43.5" lengthAdjust="spacingAndGlyphs" stroke="#6f2a96" stroke-width="0.5">58%</text>
<text x="103.2" y="825.0" font-size="20.2" font-weight="normal" fill="#201b24" textLength="169.0" lengthAdjust="spacingAndGlyphs">United Kingdom</text>
<text x="327.5" y="825.0" font-size="20.2" font-weight="bold" fill="#6f2a96" textLength="31.4" lengthAdjust="spacingAndGlyphs" stroke="#6f2a96" stroke-width="0.5">7%</text>
<text x="103.2" y="856.3" font-size="20.2" font-weight="normal" fill="#201b24" textLength="77.9" lengthAdjust="spacingAndGlyphs">Canada</text>
<text x="328.3" y="856.3" font-size="20.2" font-weight="bold" fill="#6f2a96" textLength="30.4" lengthAdjust="spacingAndGlyphs" stroke="#6f2a96" stroke-width="0.5">6%</text>
<text x="103.2" y="887.3" font-size="20.2" font-weight="normal" fill="#201b24" textLength="87.8" lengthAdjust="spacingAndGlyphs">Australia</text>
<text x="328.8" y="887.3" font-size="20.2" font-weight="bold" fill="#6f2a96" textLength="29.9" lengthAdjust="spacingAndGlyphs" stroke="#6f2a96" stroke-width="0.5">3%</text>
<text x="399.2" y="793.8" font-size="20.2" font-weight="normal" fill="#201b24" textLength="71.9" lengthAdjust="spacingAndGlyphs">Poland</text>
<text x="610.4000000000001" y="793.8" font-size="20.2" font-weight="bold" fill="#6f2a96" textLength="44.2" lengthAdjust="spacingAndGlyphs" stroke="#6f2a96" stroke-width="0.5">1.6%</text>
<text x="399.2" y="825.0" font-size="20.2" font-weight="normal" fill="#201b24" textLength="56.3" lengthAdjust="spacingAndGlyphs">Brazil</text>
<text x="610.4000000000001" y="825.0" font-size="20.2" font-weight="bold" fill="#6f2a96" textLength="44.2" lengthAdjust="spacingAndGlyphs" stroke="#6f2a96" stroke-width="0.5">1.6%</text>
<text x="398.8" y="856.3" font-size="20.2" font-weight="normal" fill="#201b24" textLength="82.4" lengthAdjust="spacingAndGlyphs">Sweden</text>
<text x="609.6" y="856.3" font-size="20.2" font-weight="bold" fill="#6f2a96" textLength="45.0" lengthAdjust="spacingAndGlyphs" stroke="#6f2a96" stroke-width="0.5">1.4%</text>
<text x="695.2" y="793.8" font-size="20.2" font-weight="normal" fill="#201b24" textLength="69.8" lengthAdjust="spacingAndGlyphs">France</text>
<text x="905.4000000000001" y="793.8" font-size="20.2" font-weight="bold" fill="#6f2a96" textLength="45.1" lengthAdjust="spacingAndGlyphs" stroke="#6f2a96" stroke-width="0.5">1.4%</text>
<text x="695.2" y="825.0" font-size="20.2" font-weight="normal" fill="#201b24" textLength="94.3" lengthAdjust="spacingAndGlyphs">Germany</text>
<text x="906.6" y="825.0" font-size="20.2" font-weight="bold" fill="#6f2a96" textLength="43.9" lengthAdjust="spacingAndGlyphs" stroke="#6f2a96" stroke-width="0.5">1.3%</text>
<text x="695.2" y="856.3" font-size="20.2" font-weight="normal" fill="#201b24" textLength="51.3" lengthAdjust="spacingAndGlyphs">India</text>
<text x="906.6" y="856.3" font-size="20.2" font-weight="bold" fill="#6f2a96" textLength="43.9" lengthAdjust="spacingAndGlyphs" stroke="#6f2a96" stroke-width="0.5">1.3%</text>
</svg>
</body>
</html>
